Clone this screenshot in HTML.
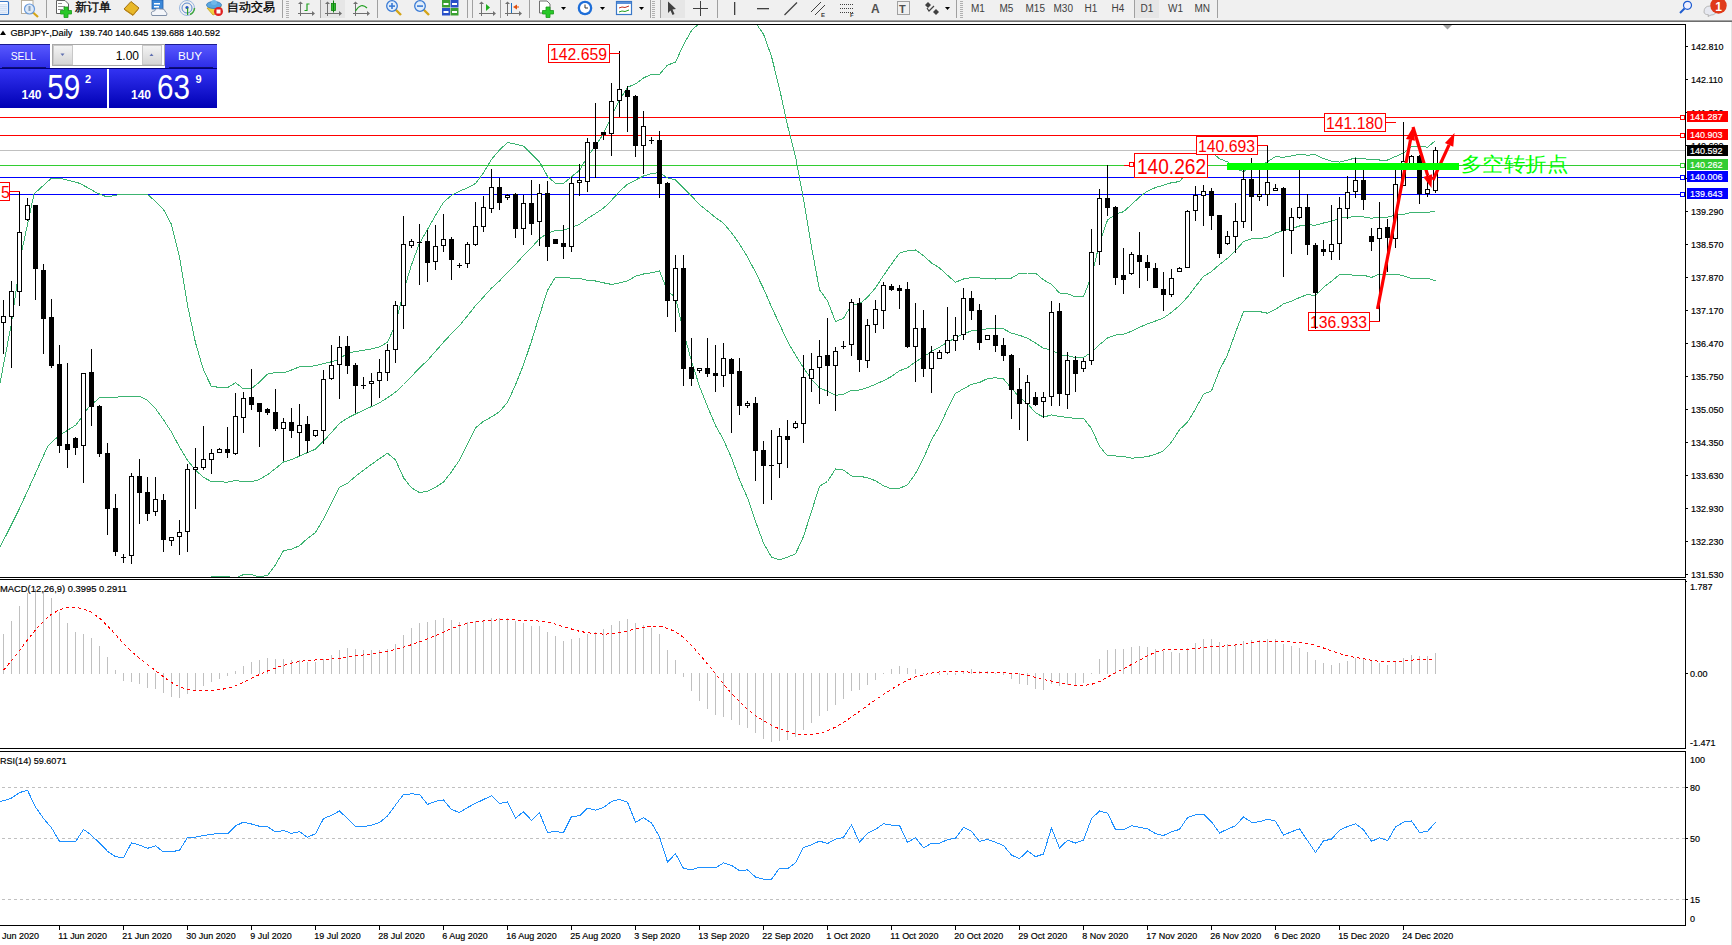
<!DOCTYPE html>
<html><head><meta charset="utf-8">
<style>
html,body{margin:0;padding:0;}
body{width:1732px;height:945px;overflow:hidden;position:relative;background:#fff;font-family:"Liberation Sans",sans-serif;}
svg{position:absolute;left:0;top:0;}
.t{font-family:"Liberation Sans",sans-serif;}
</style></head><body>
<svg width="1732" height="945" viewBox="0 0 1732 945">
<defs>
<clipPath id="clipMain"><rect x="0" y="25" width="1685" height="552"/></clipPath>
<clipPath id="clipMacd"><rect x="0" y="581" width="1685" height="167"/></clipPath>
<clipPath id="clipRsi"><rect x="0" y="752" width="1685" height="173"/></clipPath>
<linearGradient id="gBtn" x1="0" y1="0" x2="0" y2="1"><stop offset="0" stop-color="#5a5aff"/><stop offset="1" stop-color="#2c2ce6"/></linearGradient>
<linearGradient id="gPx" x1="0" y1="0" x2="0" y2="1"><stop offset="0" stop-color="#3434f4"/><stop offset="1" stop-color="#0000b4"/></linearGradient>
<linearGradient id="gGray" x1="0" y1="0" x2="0" y2="1"><stop offset="0" stop-color="#f4f4f4"/><stop offset="1" stop-color="#d4d4d4"/></linearGradient>
</defs>
<!-- window background -->
<rect x="0" y="0" width="1732" height="945" fill="#fff"/>
<!-- toolbar -->
<rect x="0" y="0" width="1732" height="20" fill="#f0f0f0"/>
<rect x="0" y="20" width="1732" height="1" fill="#a0a0a0"/>
<rect x="0" y="21" width="1732" height="1" fill="#6d6d6d"/>
<rect x="0" y="22" width="1732" height="2" fill="#ffffff"/>
<rect x="-3.5" y="1.5" width="12" height="13" fill="#fff" stroke="#3a78c8" stroke-width="1.2" rx="1"/><rect x="-2" y="4.5" width="9" height="0.8" fill="#a8c4ec"/><rect x="-2" y="6.5" width="9" height="0.8" fill="#a8c4ec"/><rect x="-2" y="8.5" width="9" height="0.8" fill="#a8c4ec"/><rect x="-2" y="10.5" width="9" height="0.8" fill="#a8c4ec"/><rect x="-2" y="12.5" width="9" height="0.8" fill="#a8c4ec"/><rect x="21.5" y="0.5" width="11.5" height="13" fill="#fff" stroke="#b8b0a0" stroke-width="1"/><line x1="33" y1="12.5" x2="38" y2="17" stroke="#d4a418" stroke-width="2.2"/><circle cx="29.5" cy="9" r="5" fill="#dde9f8" stroke="#6a9ad8" stroke-width="1.2"/><rect x="28.5" y="6" width="2" height="5" fill="#8aa0b8"/><rect x="46" y="0" width="1" height="18" fill="#a0a0a0"/><rect x="282" y="0" width="1" height="18" fill="#a0a0a0"/><rect x="320" y="0" width="1" height="18" fill="#a0a0a0"/><rect x="377" y="0" width="1" height="18" fill="#a0a0a0"/><rect x="467" y="0" width="1" height="18" fill="#a0a0a0"/><rect x="472" y="0" width="1" height="18" fill="#a0a0a0"/><rect x="500" y="0" width="1" height="18" fill="#a0a0a0"/><rect x="529" y="0" width="1" height="18" fill="#a0a0a0"/><rect x="650" y="0" width="1" height="18" fill="#a0a0a0"/><rect x="660" y="0" width="1" height="18" fill="#a0a0a0"/><rect x="717" y="0" width="1" height="18" fill="#a0a0a0"/><rect x="956" y="0" width="1" height="18" fill="#a0a0a0"/><rect x="1134" y="0" width="1" height="18" fill="#a0a0a0"/><rect x="1217" y="0" width="1" height="18" fill="#a0a0a0"/><rect x="286" y="1" width="3" height="1" fill="#b0b0b0"/><rect x="286" y="3" width="3" height="1" fill="#b0b0b0"/><rect x="286" y="5" width="3" height="1" fill="#b0b0b0"/><rect x="286" y="7" width="3" height="1" fill="#b0b0b0"/><rect x="286" y="9" width="3" height="1" fill="#b0b0b0"/><rect x="286" y="11" width="3" height="1" fill="#b0b0b0"/><rect x="286" y="13" width="3" height="1" fill="#b0b0b0"/><rect x="286" y="15" width="3" height="1" fill="#b0b0b0"/><rect x="286" y="17" width="3" height="1" fill="#b0b0b0"/><rect x="652" y="1" width="3" height="1" fill="#b0b0b0"/><rect x="652" y="3" width="3" height="1" fill="#b0b0b0"/><rect x="652" y="5" width="3" height="1" fill="#b0b0b0"/><rect x="652" y="7" width="3" height="1" fill="#b0b0b0"/><rect x="652" y="9" width="3" height="1" fill="#b0b0b0"/><rect x="652" y="11" width="3" height="1" fill="#b0b0b0"/><rect x="652" y="13" width="3" height="1" fill="#b0b0b0"/><rect x="652" y="15" width="3" height="1" fill="#b0b0b0"/><rect x="652" y="17" width="3" height="1" fill="#b0b0b0"/><rect x="960" y="1" width="3" height="1" fill="#b0b0b0"/><rect x="960" y="3" width="3" height="1" fill="#b0b0b0"/><rect x="960" y="5" width="3" height="1" fill="#b0b0b0"/><rect x="960" y="7" width="3" height="1" fill="#b0b0b0"/><rect x="960" y="9" width="3" height="1" fill="#b0b0b0"/><rect x="960" y="11" width="3" height="1" fill="#b0b0b0"/><rect x="960" y="13" width="3" height="1" fill="#b0b0b0"/><rect x="960" y="15" width="3" height="1" fill="#b0b0b0"/><rect x="960" y="17" width="3" height="1" fill="#b0b0b0"/><path d="M56.5,0.5 H65 L68.5,4 V13.5 H56.5 Z" fill="#fff" stroke="#606060" stroke-width="1"/><rect x="58" y="3" width="4" height="1" fill="#909090"/><rect x="58" y="6" width="7" height="1" fill="#909090"/><rect x="58" y="9" width="5" height="1" fill="#909090"/><path d="M64,7 H68 V10.5 H71.5 V14 H68 V17.5 H64 V14 H60.5 V10.5 H64 Z" fill="#28c828" stroke="#1a9a1a" stroke-width="0.8"/><text x="75" y="10.5" font-size="11.5" fill="#000" text-anchor="start" font-weight="normal" font-family="Liberation Sans, sans-serif" stroke="#000" stroke-width="0.3">新订单</text><path d="M124,9 L131,1.5 L139,8 L133,15 Z" fill="#e8b828" stroke="#a07010" stroke-width="1"/><path d="M125,10 L133,15.5 L138,9.5" fill="none" stroke="#c08818" stroke-width="1"/><rect x="152" y="0" width="11" height="9" fill="#3c88d8" stroke="#2060b0" stroke-width="0.8"/><rect x="154" y="3" width="6" height="1.5" fill="#fff"/><rect x="154" y="6" width="5" height="1.5" fill="#fff"/><path d="M152,15.5 Q150,11 154.5,11 Q156,7.5 160,9 Q165,8.5 165.5,12 Q168,13 166.5,15.5 Z" fill="#f4f6fa" stroke="#8090a8" stroke-width="1"/><circle cx="187" cy="8" r="7.5" fill="none" stroke="#9ab8e0" stroke-width="1"/><circle cx="187" cy="8" r="5" fill="none" stroke="#5888d0" stroke-width="1"/><path d="M190,14.5 A7.5,7.5 0 0 0 194.5,8" fill="none" stroke="#40a840" stroke-width="1.5"/><circle cx="187" cy="7.5" r="1.6" fill="#2858c0"/><rect x="187" y="8" width="1.2" height="7" fill="#28a028"/><path d="M207,8 L213,15 L220,12 L221,6 Z" fill="#f0d040" stroke="#c0a020" stroke-width="0.8"/><ellipse cx="214" cy="5" rx="7.5" ry="3.5" fill="#58a8e0" stroke="#3878b8" stroke-width="0.8"/><ellipse cx="214" cy="2.5" rx="3" ry="2.5" fill="#70b8e8"/><circle cx="218.5" cy="11.5" r="4.5" fill="#e02020"/><rect x="216.5" y="9.5" width="4" height="4" fill="#fff"/><text x="227" y="10.5" font-size="11.5" fill="#000" text-anchor="start" font-weight="normal" font-family="Liberation Sans, sans-serif" stroke="#000" stroke-width="0.3">自动交易</text><rect x="300" y="2" width="1" height="14" fill="#707070"/><rect x="298" y="13" width="16" height="1" fill="#707070"/><path d="M298,4 L300.5,1.5 L303,4 Z" fill="#707070"/><path d="M312,11 L315,13.5 L312,16 Z" fill="#707070"/><path d="M304.5,10.5 H307 V4 H309.5" fill="none" stroke="#20a020" stroke-width="1.2"/><rect x="321" y="0" width="24" height="18" fill="#e6e6e6"/><rect x="327" y="2" width="1" height="14" fill="#707070"/><rect x="325" y="13" width="16" height="1" fill="#707070"/><path d="M325,4 L327.5,1.5 L330,4 Z" fill="#707070"/><path d="M339,11 L342,13.5 L339,16 Z" fill="#707070"/><rect x="331.5" y="3.5" width="4" height="7" fill="#30c030" stroke="#108010" stroke-width="0.8"/><rect x="333" y="0.5" width="1" height="12" fill="#108010"/><rect x="355" y="2" width="1" height="14" fill="#707070"/><rect x="353" y="13" width="16" height="1" fill="#707070"/><path d="M353,4 L355.5,1.5 L358,4 Z" fill="#707070"/><path d="M367,11 L370,13.5 L367,16 Z" fill="#707070"/><path d="M355.5,11 Q361,2 367,8" fill="none" stroke="#20a020" stroke-width="1.2"/><line x1="395.5" y1="9.5" x2="401" y2="15" stroke="#d4a418" stroke-width="2.4"/><circle cx="392" cy="6" r="5.3" fill="#e2eefa" stroke="#3a7bd5" stroke-width="1.3"/><rect x="389" y="5.3" width="6" height="1.6" fill="#3a7bd5"/><rect x="391.2" y="3" width="1.6" height="6" fill="#3a7bd5"/><line x1="423.5" y1="9.5" x2="429" y2="15" stroke="#d4a418" stroke-width="2.4"/><circle cx="420" cy="6" r="5.3" fill="#e2eefa" stroke="#3a7bd5" stroke-width="1.3"/><rect x="417" y="5.3" width="6" height="1.6" fill="#3a7bd5"/><rect x="442" y="0" width="8" height="7.5" fill="#3aa030"/><rect x="443.5" y="3" width="5" height="2" fill="#fff"/><rect x="450.5" y="0" width="8" height="7.5" fill="#2850c8"/><rect x="452.0" y="3" width="5" height="2" fill="#fff"/><rect x="442" y="8" width="8" height="7.5" fill="#2850c8"/><rect x="443.5" y="11" width="5" height="2" fill="#fff"/><rect x="450.5" y="8" width="8" height="7.5" fill="#3aa030"/><rect x="452.0" y="11" width="5" height="2" fill="#fff"/><rect x="481" y="2" width="1" height="14" fill="#707070"/><rect x="479" y="13" width="16" height="1" fill="#707070"/><path d="M479,4 L481.5,1.5 L484,4 Z" fill="#707070"/><path d="M493,11 L496,13.5 L493,16 Z" fill="#707070"/><path d="M486,4 L490,7.5 L486,11 Z" fill="#20b020"/><rect x="507" y="2" width="1" height="14" fill="#707070"/><rect x="505" y="13" width="16" height="1" fill="#707070"/><path d="M505,4 L507.5,1.5 L510,4 Z" fill="#707070"/><path d="M519,11 L522,13.5 L519,16 Z" fill="#707070"/><rect x="511" y="3" width="1" height="10" fill="#1a70c0"/><path d="M513,7 L517,4.5 V9.5 Z" fill="#e05010"/><rect x="515" y="6.5" width="4" height="1" fill="#e05010"/><path d="M539.5,1 H547 L550,4 V13 H539.5 Z" fill="#fff" stroke="#707070" stroke-width="1"/><path d="M546,7 H550 V10.5 H553.5 V14 H550 V17.5 H546 V14 H542.5 V10.5 H546 Z" fill="#28c828" stroke="#1a9a1a" stroke-width="0.8"/><path d="M561,7 L566,7 L563.5,10 Z" fill="#000"/><path d="M600,7 L605,7 L602.5,10 Z" fill="#000"/><path d="M639,7 L644,7 L641.5,10 Z" fill="#000"/><circle cx="585" cy="8" r="7.3" fill="#1e6ed8"/><circle cx="585" cy="8" r="5" fill="#fff"/><path d="M585,4.5 V8 H588" fill="none" stroke="#333" stroke-width="1"/><rect x="616.5" y="1.5" width="15" height="13" fill="#fff" stroke="#3a78c8" stroke-width="1.2"/><rect x="617" y="2" width="14" height="2" fill="#5a90d8"/><path d="M619,8 L622,7 L625,7.5 L629,6" fill="none" stroke="#c03020" stroke-width="1"/><path d="M619,12 L622,11 L625,11.5 L629,10" fill="none" stroke="#20a020" stroke-width="1"/><rect x="661" y="0" width="24" height="18" fill="#e6e6e6"/><path d="M668,1.5 L676,9 L672.5,9.5 L674.5,14 L672.5,15 L670.5,10.5 L668,13 Z" fill="#404040"/><rect x="693" y="8" width="15" height="1" fill="#404040"/><rect x="700" y="1" width="1" height="15" fill="#404040"/><rect x="734" y="2" width="1.3" height="13" fill="#404040"/><rect x="757" y="8" width="12" height="1.3" fill="#404040"/><line x1="784.5" y1="15" x2="797" y2="2.5" stroke="#404040" stroke-width="1.2"/><line x1="811" y1="12" x2="821" y2="2" stroke="#404040" stroke-width="1"/><line x1="815" y1="15" x2="825" y2="5" stroke="#404040" stroke-width="1"/><text x="821" y="16.5" font-size="6" fill="#404040" text-anchor="start" font-weight="bold" font-family="Liberation Sans, sans-serif" >E</text><rect x="840" y="4" width="1" height="1" fill="#404040"/><rect x="842" y="4" width="1" height="1" fill="#404040"/><rect x="844" y="4" width="1" height="1" fill="#404040"/><rect x="846" y="4" width="1" height="1" fill="#404040"/><rect x="848" y="4" width="1" height="1" fill="#404040"/><rect x="850" y="4" width="1" height="1" fill="#404040"/><rect x="852" y="4" width="1" height="1" fill="#404040"/><rect x="840" y="8" width="1" height="1" fill="#404040"/><rect x="842" y="8" width="1" height="1" fill="#404040"/><rect x="844" y="8" width="1" height="1" fill="#404040"/><rect x="846" y="8" width="1" height="1" fill="#404040"/><rect x="848" y="8" width="1" height="1" fill="#404040"/><rect x="850" y="8" width="1" height="1" fill="#404040"/><rect x="852" y="8" width="1" height="1" fill="#404040"/><rect x="840" y="12" width="1" height="1" fill="#404040"/><rect x="842" y="12" width="1" height="1" fill="#404040"/><rect x="844" y="12" width="1" height="1" fill="#404040"/><rect x="846" y="12" width="1" height="1" fill="#404040"/><rect x="848" y="12" width="1" height="1" fill="#404040"/><rect x="850" y="12" width="1" height="1" fill="#404040"/><rect x="852" y="12" width="1" height="1" fill="#404040"/><text x="850" y="16.5" font-size="6" fill="#404040" text-anchor="start" font-weight="bold" font-family="Liberation Sans, sans-serif" >F</text><text x="871" y="12.5" font-size="12" fill="#505050" text-anchor="start" font-weight="bold" font-family="Liberation Sans, sans-serif" >A</text><rect x="897.5" y="1.5" width="12" height="13" fill="none" stroke="#505050" stroke-width="1" stroke-dasharray="1,1"/><text x="899" y="12.5" font-size="11" fill="#505050" text-anchor="start" font-weight="bold" font-family="Liberation Sans, sans-serif" >T</text><path d="M925,5 L928,2 L931,5 L928,8 Z" fill="#404040"/><path d="M933,12 L936,9 L939,12 L936,15 Z" fill="#404040"/><path d="M927,8 L929,11 L934,6" fill="none" stroke="#404040" stroke-width="1.2"/><path d="M945,7 L950,7 L947.5,10 Z" fill="#000"/><rect x="1135" y="0" width="24" height="18" fill="#e6e6e6"/><text x="971" y="12.3" font-size="10" fill="#404040" text-anchor="start" font-weight="normal" font-family="Liberation Sans, sans-serif" >M1</text><text x="999.5" y="12.3" font-size="10" fill="#404040" text-anchor="start" font-weight="normal" font-family="Liberation Sans, sans-serif" >M5</text><text x="1025.5" y="12.3" font-size="10" fill="#404040" text-anchor="start" font-weight="normal" font-family="Liberation Sans, sans-serif" >M15</text><text x="1053.5" y="12.3" font-size="10" fill="#404040" text-anchor="start" font-weight="normal" font-family="Liberation Sans, sans-serif" >M30</text><text x="1084.5" y="12.3" font-size="10" fill="#404040" text-anchor="start" font-weight="normal" font-family="Liberation Sans, sans-serif" >H1</text><text x="1111.5" y="12.3" font-size="10" fill="#404040" text-anchor="start" font-weight="normal" font-family="Liberation Sans, sans-serif" >H4</text><text x="1140.5" y="12.3" font-size="10" fill="#404040" text-anchor="start" font-weight="normal" font-family="Liberation Sans, sans-serif" >D1</text><text x="1168" y="12.3" font-size="10" fill="#404040" text-anchor="start" font-weight="normal" font-family="Liberation Sans, sans-serif" >W1</text><text x="1194.5" y="12.3" font-size="10" fill="#404040" text-anchor="start" font-weight="normal" font-family="Liberation Sans, sans-serif" >MN</text><circle cx="1687.5" cy="5.3" r="4" fill="#f0f0ff" stroke="#1e5cd0" stroke-width="1.2"/><line x1="1684.5" y1="8.5" x2="1680" y2="13" stroke="#1e5cd0" stroke-width="2"/><path d="M1704,12 Q1704,6 1710,6 Q1716,6 1716,11 Q1716,15 1711,15 L1708,16.5 L1708.5,14.8 Q1704,14.5 1704,12 Z" fill="#e6e8f0" stroke="#a8a8a8" stroke-width="0.8"/><circle cx="1718.5" cy="5.5" r="8.2" fill="#e03a1a"/><text x="1718.5" y="10.5" font-size="12" fill="#fff" text-anchor="middle" font-weight="bold" font-family="Liberation Sans, sans-serif" >1</text>
<!-- right side frame -->
<rect x="1731" y="22" width="1" height="923" fill="#e2e2e2"/>
<!-- chart frames -->
<g fill="#000" shape-rendering="crispEdges">
<rect x="0" y="24" width="1686" height="1"/>
<rect x="1685" y="24" width="1" height="554"/>
<rect x="0" y="577" width="1686" height="1"/>
<rect x="0" y="579" width="1686" height="1"/>
<rect x="1685" y="579" width="1" height="170"/>
<rect x="0" y="748" width="1686" height="1"/>
<rect x="0" y="751" width="1686" height="1"/>
<rect x="1685" y="751" width="1" height="175"/>
<rect x="0" y="925" width="1686" height="1"/>
</g>
<g shape-rendering="crispEdges"><rect x="0" y="117" width="1680" height="1" fill="#ff0000"/><rect x="1680.5" y="115.5" width="4" height="4" fill="#fff" stroke="#ff0000" stroke-width="1"/><rect x="0" y="135" width="1680" height="1" fill="#ff0000"/><rect x="1680.5" y="133.5" width="4" height="4" fill="#fff" stroke="#ff0000" stroke-width="1"/><rect x="0" y="150" width="1685" height="1" fill="#c0c0c0"/><rect x="0" y="165" width="1680" height="1" fill="#32cd32"/><rect x="1680.5" y="163.5" width="4" height="4" fill="#fff" stroke="#32cd32" stroke-width="1"/><rect x="0" y="177" width="1680" height="1" fill="#0000ff"/><rect x="1680.5" y="175.5" width="4" height="4" fill="#fff" stroke="#0000ff" stroke-width="1"/><rect x="0" y="194" width="1680" height="1" fill="#0000ff"/><rect x="1680.5" y="192.5" width="4" height="4" fill="#fff" stroke="#0000ff" stroke-width="1"/></g>
<g clip-path="url(#clipMain)">
<g clip-path="url(#clipMain)"><polyline points="0.0,383.0 11.0,326.0 22.0,250.0 34.0,194.0 51.0,178.5 63.0,179.0 80.0,183.4 97.0,193.0 107.0,197.0 122.0,194.0 136.0,195.0 147.0,194.0 155.5,201.3 163.5,209.5 171.5,224.5 179.5,256.6 187.5,305.3 195.5,342.7 203.5,370.1 211.5,386.7 219.5,387.2 227.5,387.6 235.5,382.8 243.5,388.9 251.5,388.5 259.5,382.2 267.5,374.1 275.5,372.4 283.5,373.0 291.5,370.0 299.5,366.8 307.5,366.9 315.5,365.7 323.5,363.5 331.5,361.8 339.5,359.2 347.5,352.9 355.5,351.5 363.5,350.3 371.5,348.9 379.5,346.8 387.5,342.3 395.5,324.6 403.5,291.4 411.5,264.8 419.5,243.3 427.5,229.5 435.5,215.5 443.5,202.2 451.5,195.4 459.5,191.1 467.5,187.9 475.5,183.5 483.5,172.7 491.5,159.4 499.5,150.0 507.5,142.5 515.5,144.2 523.5,146.1 531.5,154.0 539.5,161.9 547.5,176.3 555.5,183.5 563.5,183.4 571.5,176.7 579.5,170.3 587.5,156.5 595.5,146.0 603.5,133.6 611.5,116.3 619.5,100.2 627.5,87.3 635.5,83.9 643.5,77.9 651.5,74.5 659.5,74.3 667.5,65.1 675.5,62.2 683.5,44.7 691.5,30.6 699.5,23.0 707.5,15.6 715.5,9.7 723.5,6.7 731.5,7.5 739.5,8.0 747.5,16.1 755.5,22.7 763.5,34.1 771.5,56.4 779.5,88.6 787.5,125.5 795.5,156.5 803.5,199.2 811.5,246.8 819.5,289.8 827.5,300.8 835.5,321.6 843.5,318.3 851.5,304.8 859.5,303.9 867.5,297.2 875.5,287.9 883.5,275.5 891.5,264.1 899.5,253.1 907.5,250.8 915.5,250.0 923.5,255.6 931.5,263.0 939.5,267.9 947.5,275.3 955.5,282.2 963.5,279.0 971.5,277.6 979.5,277.9 987.5,278.8 995.5,279.0 1003.5,278.7 1011.5,278.1 1019.5,273.3 1027.5,273.0 1035.5,273.0 1043.5,279.9 1051.5,284.4 1059.5,293.0 1067.5,293.8 1075.5,296.8 1083.5,296.7 1091.5,276.2 1099.5,243.2 1107.5,220.1 1115.5,214.2 1123.5,211.7 1131.5,204.5 1139.5,197.1 1147.5,191.1 1155.5,187.6 1163.5,185.1 1171.5,182.7 1179.5,181.6 1187.5,172.0 1195.5,164.3 1203.5,158.5 1211.5,152.0 1219.5,158.8 1227.5,161.8 1235.5,168.8 1243.5,171.6 1251.5,166.3 1259.5,165.6 1267.5,161.6 1275.5,156.7 1283.5,157.2 1291.5,156.0 1299.5,154.4 1307.5,155.2 1315.5,154.6 1323.5,158.6 1331.5,161.3 1339.5,162.1 1347.5,160.1 1355.5,157.9 1363.5,158.9 1371.5,159.3 1379.5,160.0 1387.5,160.0 1395.5,156.5 1403.5,153.0 1411.5,146.4 1419.5,146.3 1427.5,147.2 1435.5,140.7" fill="none" stroke="#3cb371" stroke-width="1" shape-rendering="crispEdges" /><polyline points="0.0,546.7 7.6,532.4 19.0,509.5 28.6,488.6 38.1,467.6 47.6,446.7 55.2,439.0 62.9,433.3 76.2,424.8 87.6,408.6 99.0,398.0 118.0,397.0 140.0,396.5 147.0,400.0 155.5,408.6 163.5,419.8 171.5,432.1 179.5,447.1 187.5,460.3 195.5,470.2 203.5,477.3 211.5,481.7 219.5,481.9 227.5,482.1 235.5,480.5 243.5,481.7 251.5,481.6 259.5,479.5 267.5,474.7 275.5,468.6 283.5,461.9 291.5,459.6 299.5,456.2 307.5,452.6 315.5,449.1 323.5,441.1 331.5,432.6 339.5,423.3 347.5,418.1 355.5,414.0 363.5,410.2 371.5,406.6 379.5,402.8 387.5,397.7 395.5,392.2 403.5,384.5 411.5,376.4 419.5,367.9 427.5,360.4 435.5,351.4 443.5,342.2 451.5,333.6 459.5,325.6 467.5,315.8 475.5,305.7 483.5,297.0 491.5,288.1 499.5,280.9 507.5,272.4 515.5,264.5 523.5,255.5 531.5,247.6 539.5,238.6 547.5,233.4 555.5,230.3 563.5,230.3 571.5,227.5 579.5,224.4 587.5,218.4 595.5,213.5 603.5,208.2 611.5,200.3 619.5,191.6 627.5,184.1 635.5,180.1 643.5,176.0 651.5,173.6 659.5,172.6 667.5,177.9 675.5,179.9 683.5,188.1 691.5,195.9 699.5,204.7 707.5,211.0 715.5,217.6 723.5,223.2 731.5,232.7 739.5,243.9 747.5,257.0 755.5,272.1 763.5,288.6 771.5,306.8 779.5,324.1 787.5,341.3 795.5,355.2 803.5,367.8 811.5,379.2 819.5,387.9 827.5,391.2 835.5,395.3 843.5,394.2 851.5,390.4 859.5,390.0 867.5,387.6 875.5,384.3 883.5,380.7 891.5,376.5 899.5,370.7 907.5,367.9 915.5,361.8 923.5,357.0 931.5,351.3 939.5,347.1 947.5,342.2 955.5,337.8 963.5,333.9 971.5,330.9 979.5,330.2 987.5,328.7 995.5,328.4 1003.5,328.9 1011.5,333.2 1019.5,335.3 1027.5,338.2 1035.5,342.9 1043.5,348.5 1051.5,349.7 1059.5,354.8 1067.5,355.6 1075.5,357.8 1083.5,357.4 1091.5,352.4 1099.5,344.7 1107.5,338.0 1115.5,335.1 1123.5,334.1 1131.5,331.3 1139.5,327.3 1147.5,323.9 1155.5,321.0 1163.5,317.9 1171.5,312.4 1179.5,305.6 1187.5,297.1 1195.5,286.6 1203.5,276.4 1211.5,271.5 1219.5,264.5 1227.5,258.3 1235.5,250.7 1243.5,241.6 1251.5,238.8 1259.5,238.6 1267.5,237.4 1275.5,233.0 1283.5,230.5 1291.5,228.7 1299.5,226.0 1307.5,224.9 1315.5,225.1 1323.5,223.0 1331.5,221.3 1339.5,218.3 1347.5,217.4 1355.5,216.6 1363.5,217.0 1371.5,218.3 1379.5,217.1 1387.5,217.1 1395.5,215.3 1403.5,214.4 1411.5,212.4 1419.5,212.3 1427.5,212.7 1435.5,210.8" fill="none" stroke="#3cb371" stroke-width="1" shape-rendering="crispEdges" /><polyline points="150.0,578.0 155.5,615.9 163.5,630.0 171.5,639.7 179.5,637.5 187.5,615.2 195.5,597.8 203.5,584.5 211.5,576.7 219.5,576.6 227.5,576.6 235.5,578.2 243.5,574.5 251.5,574.7 259.5,576.9 267.5,575.4 275.5,564.7 283.5,550.7 291.5,549.2 299.5,545.7 307.5,538.4 315.5,532.5 323.5,518.8 331.5,503.3 339.5,487.4 347.5,483.3 355.5,476.4 363.5,470.2 371.5,464.4 379.5,458.7 387.5,453.2 395.5,459.8 403.5,477.7 411.5,487.9 419.5,492.5 427.5,491.3 435.5,487.2 443.5,482.2 451.5,471.8 459.5,460.1 467.5,443.8 475.5,427.9 483.5,421.3 491.5,416.9 499.5,411.8 507.5,402.3 515.5,384.8 523.5,364.8 531.5,341.2 539.5,315.3 547.5,290.5 555.5,277.1 563.5,277.2 571.5,278.2 579.5,278.5 587.5,280.3 595.5,281.0 603.5,282.8 611.5,284.4 619.5,282.9 627.5,281.0 635.5,276.2 643.5,274.0 651.5,272.7 659.5,271.0 667.5,290.7 675.5,297.7 683.5,331.6 691.5,361.2 699.5,386.4 707.5,406.5 715.5,425.5 723.5,439.8 731.5,457.9 739.5,479.8 747.5,497.8 755.5,521.4 763.5,543.1 771.5,557.2 779.5,559.7 787.5,557.1 795.5,553.9 803.5,536.4 811.5,511.6 819.5,486.1 827.5,481.5 835.5,469.0 843.5,470.1 851.5,476.0 859.5,476.1 867.5,477.9 875.5,480.7 883.5,485.8 891.5,488.9 899.5,488.3 907.5,484.9 915.5,473.6 923.5,458.3 931.5,439.7 939.5,426.4 947.5,409.1 955.5,393.4 963.5,388.8 971.5,384.3 979.5,382.5 987.5,378.6 995.5,377.7 1003.5,379.0 1011.5,388.2 1019.5,397.4 1027.5,403.4 1035.5,412.8 1043.5,417.1 1051.5,414.9 1059.5,416.6 1067.5,417.3 1075.5,418.7 1083.5,418.2 1091.5,428.6 1099.5,446.2 1107.5,455.9 1115.5,456.0 1123.5,456.5 1131.5,458.2 1139.5,457.5 1147.5,456.6 1155.5,454.3 1163.5,450.8 1171.5,442.1 1179.5,429.7 1187.5,422.2 1195.5,409.0 1203.5,394.2 1211.5,390.9 1219.5,370.2 1227.5,354.8 1235.5,332.5 1243.5,311.6 1251.5,311.3 1259.5,311.6 1267.5,313.2 1275.5,309.3 1283.5,303.9 1291.5,301.3 1299.5,297.5 1307.5,294.5 1315.5,295.7 1323.5,287.3 1331.5,281.3 1339.5,274.5 1347.5,274.6 1355.5,275.4 1363.5,275.2 1371.5,277.4 1379.5,274.1 1387.5,274.3 1395.5,274.1 1403.5,275.8 1411.5,278.4 1419.5,278.4 1427.5,278.2 1435.5,281.0" fill="none" stroke="#3cb371" stroke-width="1" shape-rendering="crispEdges" /></g>
</g>
<g fill="#000" shape-rendering="crispEdges"><rect x="3" y="300" width="1" height="54"/><rect x="1" y="316" width="5" height="7"/><rect x="2" y="317" width="3" height="5" fill="#fff"/><rect x="11" y="281" width="1" height="87"/><rect x="9" y="291" width="5" height="26"/><rect x="10" y="292" width="3" height="24" fill="#fff"/><rect x="19" y="191" width="1" height="115"/><rect x="17" y="232" width="5" height="60"/><rect x="18" y="233" width="3" height="58" fill="#fff"/><rect x="27" y="198" width="1" height="23"/><rect x="25" y="205" width="5" height="15"/><rect x="26" y="206" width="3" height="13" fill="#fff"/><rect x="35" y="205" width="1" height="95"/><rect x="33" y="205" width="5" height="64"/><rect x="43" y="264" width="1" height="90"/><rect x="41" y="270" width="5" height="49"/><rect x="51" y="299" width="1" height="69"/><rect x="49" y="317" width="5" height="49"/><rect x="59" y="345" width="1" height="108"/><rect x="57" y="364" width="5" height="82"/><rect x="67" y="363" width="1" height="105"/><rect x="65" y="444" width="5" height="6"/><rect x="75" y="437" width="1" height="18"/><rect x="73" y="438" width="5" height="10"/><rect x="83" y="373" width="1" height="110"/><rect x="81" y="373" width="5" height="73"/><rect x="82" y="374" width="3" height="71" fill="#fff"/><rect x="91" y="349" width="1" height="77"/><rect x="89" y="372" width="5" height="35"/><rect x="99" y="405" width="1" height="52"/><rect x="97" y="406" width="5" height="48"/><rect x="107" y="443" width="1" height="92"/><rect x="105" y="453" width="5" height="56"/><rect x="115" y="494" width="1" height="62"/><rect x="113" y="508" width="5" height="44"/><rect x="123" y="554" width="1" height="9"/><rect x="121" y="557" width="5" height="1"/><rect x="131" y="473" width="1" height="91"/><rect x="129" y="476" width="5" height="80"/><rect x="130" y="477" width="3" height="78" fill="#fff"/><rect x="139" y="459" width="1" height="65"/><rect x="137" y="476" width="5" height="17"/><rect x="147" y="477" width="1" height="44"/><rect x="145" y="492" width="5" height="22"/><rect x="155" y="477" width="1" height="39"/><rect x="153" y="499" width="5" height="13"/><rect x="154" y="500" width="3" height="11" fill="#fff"/><rect x="163" y="494" width="1" height="58"/><rect x="161" y="500" width="5" height="40"/><rect x="171" y="537" width="1" height="9"/><rect x="169" y="537" width="5" height="4"/><rect x="170" y="538" width="3" height="2" fill="#fff"/><rect x="179" y="520" width="1" height="35"/><rect x="177" y="532" width="5" height="5"/><rect x="178" y="533" width="3" height="3" fill="#fff"/><rect x="187" y="464" width="1" height="88"/><rect x="185" y="469" width="5" height="63"/><rect x="186" y="470" width="3" height="61" fill="#fff"/><rect x="195" y="448" width="1" height="61"/><rect x="193" y="467" width="5" height="3"/><rect x="194" y="468" width="3" height="1" fill="#fff"/><rect x="203" y="426" width="1" height="44"/><rect x="201" y="459" width="5" height="9"/><rect x="202" y="460" width="3" height="7" fill="#fff"/><rect x="211" y="449" width="1" height="25"/><rect x="209" y="453" width="5" height="7"/><rect x="210" y="454" width="3" height="5" fill="#fff"/><rect x="219" y="448" width="1" height="5"/><rect x="217" y="449" width="5" height="4"/><rect x="218" y="450" width="3" height="2" fill="#fff"/><rect x="227" y="427" width="1" height="31"/><rect x="225" y="449" width="5" height="4"/><rect x="235" y="393" width="1" height="62"/><rect x="233" y="416" width="5" height="38"/><rect x="234" y="417" width="3" height="36" fill="#fff"/><rect x="243" y="392" width="1" height="41"/><rect x="241" y="398" width="5" height="20"/><rect x="242" y="399" width="3" height="18" fill="#fff"/><rect x="251" y="369" width="1" height="41"/><rect x="249" y="397" width="5" height="8"/><rect x="259" y="403" width="1" height="44"/><rect x="257" y="403" width="5" height="9"/><rect x="267" y="408" width="1" height="7"/><rect x="265" y="409" width="5" height="4"/><rect x="275" y="389" width="1" height="42"/><rect x="273" y="412" width="5" height="17"/><rect x="283" y="418" width="1" height="43"/><rect x="281" y="422" width="5" height="7"/><rect x="282" y="423" width="3" height="5" fill="#fff"/><rect x="291" y="408" width="1" height="30"/><rect x="289" y="422" width="5" height="9"/><rect x="299" y="404" width="1" height="52"/><rect x="297" y="425" width="5" height="8"/><rect x="298" y="426" width="3" height="6" fill="#fff"/><rect x="307" y="416" width="1" height="37"/><rect x="305" y="424" width="5" height="17"/><rect x="315" y="430" width="1" height="7"/><rect x="313" y="430" width="5" height="6"/><rect x="314" y="431" width="3" height="4" fill="#fff"/><rect x="323" y="370" width="1" height="74"/><rect x="321" y="379" width="5" height="52"/><rect x="322" y="380" width="3" height="50" fill="#fff"/><rect x="331" y="345" width="1" height="35"/><rect x="329" y="365" width="5" height="14"/><rect x="330" y="366" width="3" height="12" fill="#fff"/><rect x="339" y="336" width="1" height="63"/><rect x="337" y="347" width="5" height="18"/><rect x="338" y="348" width="3" height="16" fill="#fff"/><rect x="347" y="336" width="1" height="38"/><rect x="345" y="346" width="5" height="20"/><rect x="355" y="363" width="1" height="50"/><rect x="353" y="365" width="5" height="21"/><rect x="363" y="377" width="1" height="12"/><rect x="361" y="385" width="5" height="1"/><rect x="371" y="373" width="1" height="33"/><rect x="369" y="381" width="5" height="3"/><rect x="370" y="382" width="3" height="1" fill="#fff"/><rect x="379" y="359" width="1" height="39"/><rect x="377" y="372" width="5" height="9"/><rect x="378" y="373" width="3" height="7" fill="#fff"/><rect x="387" y="344" width="1" height="37"/><rect x="385" y="350" width="5" height="23"/><rect x="386" y="351" width="3" height="21" fill="#fff"/><rect x="395" y="301" width="1" height="62"/><rect x="393" y="305" width="5" height="45"/><rect x="394" y="306" width="3" height="43" fill="#fff"/><rect x="403" y="216" width="1" height="113"/><rect x="401" y="244" width="5" height="62"/><rect x="402" y="245" width="3" height="60" fill="#fff"/><rect x="411" y="239" width="1" height="9"/><rect x="409" y="241" width="5" height="5"/><rect x="410" y="242" width="3" height="3" fill="#fff"/><rect x="419" y="224" width="1" height="61"/><rect x="417" y="242" width="5" height="1"/><rect x="427" y="230" width="1" height="52"/><rect x="425" y="241" width="5" height="22"/><rect x="435" y="225" width="1" height="45"/><rect x="433" y="246" width="5" height="16"/><rect x="434" y="247" width="3" height="14" fill="#fff"/><rect x="443" y="214" width="1" height="38"/><rect x="441" y="239" width="5" height="7"/><rect x="442" y="240" width="3" height="5" fill="#fff"/><rect x="451" y="237" width="1" height="43"/><rect x="449" y="239" width="5" height="21"/><rect x="459" y="263" width="1" height="5"/><rect x="457" y="265" width="5" height="1"/><rect x="467" y="242" width="1" height="26"/><rect x="465" y="244" width="5" height="20"/><rect x="466" y="245" width="3" height="18" fill="#fff"/><rect x="475" y="202" width="1" height="44"/><rect x="473" y="226" width="5" height="19"/><rect x="474" y="227" width="3" height="17" fill="#fff"/><rect x="483" y="196" width="1" height="36"/><rect x="481" y="207" width="5" height="20"/><rect x="482" y="208" width="3" height="18" fill="#fff"/><rect x="491" y="169" width="1" height="44"/><rect x="489" y="187" width="5" height="22"/><rect x="490" y="188" width="3" height="20" fill="#fff"/><rect x="499" y="178" width="1" height="32"/><rect x="497" y="187" width="5" height="16"/><rect x="507" y="194" width="1" height="6"/><rect x="505" y="195" width="5" height="3"/><rect x="506" y="196" width="3" height="1" fill="#fff"/><rect x="515" y="193" width="1" height="45"/><rect x="513" y="194" width="5" height="35"/><rect x="523" y="195" width="1" height="50"/><rect x="521" y="203" width="5" height="26"/><rect x="522" y="204" width="3" height="24" fill="#fff"/><rect x="531" y="180" width="1" height="55"/><rect x="529" y="203" width="5" height="21"/><rect x="539" y="184" width="1" height="62"/><rect x="537" y="193" width="5" height="29"/><rect x="538" y="194" width="3" height="27" fill="#fff"/><rect x="547" y="181" width="1" height="80"/><rect x="545" y="193" width="5" height="54"/><rect x="555" y="239" width="1" height="5"/><rect x="553" y="239" width="5" height="5"/><rect x="563" y="225" width="1" height="34"/><rect x="561" y="243" width="5" height="4"/><rect x="571" y="177" width="1" height="75"/><rect x="569" y="183" width="5" height="64"/><rect x="570" y="184" width="3" height="62" fill="#fff"/><rect x="579" y="164" width="1" height="32"/><rect x="577" y="180" width="5" height="3"/><rect x="578" y="181" width="3" height="1" fill="#fff"/><rect x="587" y="138" width="1" height="54"/><rect x="585" y="142" width="5" height="40"/><rect x="586" y="143" width="3" height="38" fill="#fff"/><rect x="595" y="103" width="1" height="75"/><rect x="593" y="142" width="5" height="7"/><rect x="603" y="132" width="1" height="8"/><rect x="601" y="132" width="5" height="3"/><rect x="611" y="83" width="1" height="73"/><rect x="609" y="101" width="5" height="33"/><rect x="610" y="102" width="3" height="31" fill="#fff"/><rect x="619" y="51" width="1" height="66"/><rect x="617" y="89" width="5" height="12"/><rect x="618" y="90" width="3" height="10" fill="#fff"/><rect x="627" y="86" width="1" height="46"/><rect x="625" y="90" width="5" height="7"/><rect x="635" y="95" width="1" height="62"/><rect x="633" y="96" width="5" height="50"/><rect x="643" y="111" width="1" height="63"/><rect x="641" y="126" width="5" height="20"/><rect x="642" y="127" width="3" height="18" fill="#fff"/><rect x="651" y="137" width="1" height="7"/><rect x="649" y="140" width="5" height="1"/><rect x="659" y="131" width="1" height="67"/><rect x="657" y="140" width="5" height="44"/><rect x="667" y="182" width="1" height="135"/><rect x="665" y="183" width="5" height="118"/><rect x="675" y="255" width="1" height="77"/><rect x="673" y="268" width="5" height="33"/><rect x="674" y="269" width="3" height="31" fill="#fff"/><rect x="683" y="255" width="1" height="131"/><rect x="681" y="268" width="5" height="101"/><rect x="691" y="338" width="1" height="48"/><rect x="689" y="367" width="5" height="12"/><rect x="699" y="368" width="1" height="5"/><rect x="697" y="368" width="5" height="3"/><rect x="698" y="369" width="3" height="1" fill="#fff"/><rect x="707" y="338" width="1" height="39"/><rect x="705" y="368" width="5" height="6"/><rect x="715" y="345" width="1" height="47"/><rect x="713" y="373" width="5" height="3"/><rect x="723" y="343" width="1" height="44"/><rect x="721" y="358" width="5" height="18"/><rect x="722" y="359" width="3" height="16" fill="#fff"/><rect x="731" y="358" width="1" height="75"/><rect x="729" y="359" width="5" height="15"/><rect x="739" y="358" width="1" height="57"/><rect x="737" y="371" width="5" height="35"/><rect x="747" y="401" width="1" height="7"/><rect x="745" y="403" width="5" height="3"/><rect x="746" y="404" width="3" height="1" fill="#fff"/><rect x="755" y="397" width="1" height="84"/><rect x="753" y="403" width="5" height="48"/><rect x="763" y="441" width="1" height="63"/><rect x="761" y="450" width="5" height="16"/><rect x="771" y="430" width="1" height="70"/><rect x="769" y="465" width="5" height="1"/><rect x="779" y="428" width="1" height="50"/><rect x="777" y="436" width="5" height="28"/><rect x="778" y="437" width="3" height="26" fill="#fff"/><rect x="787" y="420" width="1" height="48"/><rect x="785" y="436" width="5" height="4"/><rect x="795" y="421" width="1" height="8"/><rect x="793" y="423" width="5" height="5"/><rect x="794" y="424" width="3" height="3" fill="#fff"/><rect x="803" y="355" width="1" height="88"/><rect x="801" y="377" width="5" height="47"/><rect x="802" y="378" width="3" height="45" fill="#fff"/><rect x="811" y="353" width="1" height="39"/><rect x="809" y="369" width="5" height="10"/><rect x="810" y="370" width="3" height="8" fill="#fff"/><rect x="819" y="340" width="1" height="64"/><rect x="817" y="356" width="5" height="12"/><rect x="818" y="357" width="3" height="10" fill="#fff"/><rect x="827" y="318" width="1" height="78"/><rect x="825" y="355" width="5" height="11"/><rect x="835" y="347" width="1" height="64"/><rect x="833" y="351" width="5" height="15"/><rect x="834" y="352" width="3" height="13" fill="#fff"/><rect x="843" y="341" width="1" height="8"/><rect x="841" y="346" width="5" height="1"/><rect x="851" y="299" width="1" height="57"/><rect x="849" y="302" width="5" height="43"/><rect x="850" y="303" width="3" height="41" fill="#fff"/><rect x="859" y="298" width="1" height="74"/><rect x="857" y="303" width="5" height="57"/><rect x="867" y="319" width="1" height="49"/><rect x="865" y="325" width="5" height="36"/><rect x="866" y="326" width="3" height="34" fill="#fff"/><rect x="875" y="300" width="1" height="33"/><rect x="873" y="309" width="5" height="16"/><rect x="874" y="310" width="3" height="14" fill="#fff"/><rect x="883" y="282" width="1" height="47"/><rect x="881" y="285" width="5" height="26"/><rect x="882" y="286" width="3" height="24" fill="#fff"/><rect x="891" y="284" width="1" height="7"/><rect x="889" y="286" width="5" height="4"/><rect x="899" y="285" width="1" height="24"/><rect x="897" y="288" width="5" height="3"/><rect x="907" y="282" width="1" height="66"/><rect x="905" y="289" width="5" height="58"/><rect x="915" y="303" width="1" height="79"/><rect x="913" y="328" width="5" height="19"/><rect x="914" y="329" width="3" height="17" fill="#fff"/><rect x="923" y="310" width="1" height="67"/><rect x="921" y="328" width="5" height="41"/><rect x="931" y="346" width="1" height="47"/><rect x="929" y="352" width="5" height="17"/><rect x="930" y="353" width="3" height="15" fill="#fff"/><rect x="939" y="350" width="1" height="9"/><rect x="937" y="352" width="5" height="7"/><rect x="938" y="353" width="3" height="5" fill="#fff"/><rect x="947" y="307" width="1" height="47"/><rect x="945" y="340" width="5" height="13"/><rect x="946" y="341" width="3" height="11" fill="#fff"/><rect x="955" y="317" width="1" height="34"/><rect x="953" y="335" width="5" height="6"/><rect x="954" y="336" width="3" height="4" fill="#fff"/><rect x="963" y="288" width="1" height="52"/><rect x="961" y="298" width="5" height="37"/><rect x="962" y="299" width="3" height="35" fill="#fff"/><rect x="971" y="291" width="1" height="29"/><rect x="969" y="298" width="5" height="13"/><rect x="979" y="304" width="1" height="46"/><rect x="977" y="310" width="5" height="33"/><rect x="987" y="335" width="1" height="5"/><rect x="985" y="335" width="5" height="5"/><rect x="986" y="336" width="3" height="3" fill="#fff"/><rect x="995" y="315" width="1" height="37"/><rect x="993" y="335" width="5" height="11"/><rect x="1003" y="338" width="1" height="23"/><rect x="1001" y="345" width="5" height="11"/><rect x="1011" y="354" width="1" height="65"/><rect x="1009" y="355" width="5" height="35"/><rect x="1019" y="368" width="1" height="62"/><rect x="1017" y="389" width="5" height="15"/><rect x="1027" y="375" width="1" height="66"/><rect x="1025" y="382" width="5" height="22"/><rect x="1026" y="383" width="3" height="20" fill="#fff"/><rect x="1035" y="392" width="1" height="14"/><rect x="1033" y="397" width="5" height="8"/><rect x="1043" y="392" width="1" height="26"/><rect x="1041" y="397" width="5" height="5"/><rect x="1042" y="398" width="3" height="3" fill="#fff"/><rect x="1051" y="301" width="1" height="105"/><rect x="1049" y="312" width="5" height="85"/><rect x="1050" y="313" width="3" height="83" fill="#fff"/><rect x="1059" y="303" width="1" height="103"/><rect x="1057" y="311" width="5" height="83"/><rect x="1067" y="352" width="1" height="57"/><rect x="1065" y="360" width="5" height="35"/><rect x="1066" y="361" width="3" height="33" fill="#fff"/><rect x="1075" y="356" width="1" height="36"/><rect x="1073" y="360" width="5" height="14"/><rect x="1083" y="358" width="1" height="14"/><rect x="1081" y="361" width="5" height="8"/><rect x="1082" y="362" width="3" height="6" fill="#fff"/><rect x="1091" y="229" width="1" height="136"/><rect x="1089" y="252" width="5" height="109"/><rect x="1090" y="253" width="3" height="107" fill="#fff"/><rect x="1099" y="189" width="1" height="76"/><rect x="1097" y="198" width="5" height="54"/><rect x="1098" y="199" width="3" height="52" fill="#fff"/><rect x="1107" y="165" width="1" height="51"/><rect x="1105" y="198" width="5" height="10"/><rect x="1115" y="206" width="1" height="79"/><rect x="1113" y="207" width="5" height="71"/><rect x="1123" y="248" width="1" height="46"/><rect x="1121" y="275" width="5" height="5"/><rect x="1131" y="252" width="1" height="23"/><rect x="1129" y="254" width="5" height="20"/><rect x="1130" y="255" width="3" height="18" fill="#fff"/><rect x="1139" y="232" width="1" height="56"/><rect x="1137" y="255" width="5" height="7"/><rect x="1147" y="255" width="1" height="26"/><rect x="1145" y="262" width="5" height="6"/><rect x="1155" y="263" width="1" height="25"/><rect x="1153" y="268" width="5" height="20"/><rect x="1163" y="272" width="1" height="39"/><rect x="1161" y="289" width="5" height="6"/><rect x="1171" y="269" width="1" height="28"/><rect x="1169" y="278" width="5" height="17"/><rect x="1170" y="279" width="3" height="15" fill="#fff"/><rect x="1179" y="267" width="1" height="5"/><rect x="1177" y="268" width="5" height="4"/><rect x="1178" y="269" width="3" height="2" fill="#fff"/><rect x="1187" y="210" width="1" height="58"/><rect x="1185" y="211" width="5" height="57"/><rect x="1186" y="212" width="3" height="55" fill="#fff"/><rect x="1195" y="186" width="1" height="35"/><rect x="1193" y="195" width="5" height="16"/><rect x="1194" y="196" width="3" height="14" fill="#fff"/><rect x="1203" y="185" width="1" height="41"/><rect x="1201" y="191" width="5" height="5"/><rect x="1202" y="192" width="3" height="3" fill="#fff"/><rect x="1211" y="188" width="1" height="42"/><rect x="1209" y="191" width="5" height="25"/><rect x="1219" y="215" width="1" height="43"/><rect x="1217" y="215" width="5" height="39"/><rect x="1227" y="231" width="1" height="14"/><rect x="1225" y="236" width="5" height="8"/><rect x="1226" y="237" width="3" height="6" fill="#fff"/><rect x="1235" y="203" width="1" height="50"/><rect x="1233" y="221" width="5" height="16"/><rect x="1234" y="222" width="3" height="14" fill="#fff"/><rect x="1243" y="170" width="1" height="58"/><rect x="1241" y="179" width="5" height="43"/><rect x="1242" y="180" width="3" height="41" fill="#fff"/><rect x="1251" y="158" width="1" height="73"/><rect x="1249" y="179" width="5" height="18"/><rect x="1259" y="170" width="1" height="31"/><rect x="1257" y="194" width="5" height="3"/><rect x="1258" y="195" width="3" height="1" fill="#fff"/><rect x="1267" y="145" width="1" height="61"/><rect x="1265" y="182" width="5" height="13"/><rect x="1266" y="183" width="3" height="11" fill="#fff"/><rect x="1275" y="184" width="1" height="7"/><rect x="1273" y="188" width="5" height="3"/><rect x="1274" y="189" width="3" height="1" fill="#fff"/><rect x="1283" y="187" width="1" height="90"/><rect x="1281" y="188" width="5" height="43"/><rect x="1291" y="208" width="1" height="46"/><rect x="1289" y="217" width="5" height="14"/><rect x="1290" y="218" width="3" height="12" fill="#fff"/><rect x="1299" y="170" width="1" height="49"/><rect x="1297" y="207" width="5" height="11"/><rect x="1298" y="208" width="3" height="9" fill="#fff"/><rect x="1307" y="194" width="1" height="61"/><rect x="1305" y="207" width="5" height="38"/><rect x="1315" y="243" width="1" height="86"/><rect x="1313" y="245" width="5" height="48"/><rect x="1323" y="240" width="1" height="16"/><rect x="1321" y="249" width="5" height="3"/><rect x="1331" y="205" width="1" height="55"/><rect x="1329" y="244" width="5" height="8"/><rect x="1330" y="245" width="3" height="6" fill="#fff"/><rect x="1339" y="197" width="1" height="63"/><rect x="1337" y="208" width="5" height="36"/><rect x="1338" y="209" width="3" height="34" fill="#fff"/><rect x="1347" y="176" width="1" height="43"/><rect x="1345" y="192" width="5" height="17"/><rect x="1346" y="193" width="3" height="15" fill="#fff"/><rect x="1355" y="158" width="1" height="40"/><rect x="1353" y="180" width="5" height="12"/><rect x="1354" y="181" width="3" height="10" fill="#fff"/><rect x="1363" y="170" width="1" height="40"/><rect x="1361" y="180" width="5" height="20"/><rect x="1371" y="228" width="1" height="23"/><rect x="1369" y="236" width="5" height="6"/><rect x="1379" y="202" width="1" height="119"/><rect x="1377" y="228" width="5" height="11"/><rect x="1378" y="229" width="3" height="9" fill="#fff"/><rect x="1387" y="219" width="1" height="53"/><rect x="1385" y="227" width="5" height="11"/><rect x="1395" y="170" width="1" height="78"/><rect x="1393" y="184" width="5" height="55"/><rect x="1394" y="185" width="3" height="53" fill="#fff"/><rect x="1403" y="122" width="1" height="64"/><rect x="1401" y="161" width="5" height="25"/><rect x="1402" y="162" width="3" height="23" fill="#fff"/><rect x="1411" y="155" width="1" height="11"/><rect x="1409" y="156" width="5" height="9"/><rect x="1410" y="157" width="3" height="7" fill="#fff"/><rect x="1419" y="155" width="1" height="49"/><rect x="1417" y="156" width="5" height="38"/><rect x="1427" y="171" width="1" height="26"/><rect x="1425" y="189" width="5" height="5"/><rect x="1426" y="190" width="3" height="3" fill="#fff"/><rect x="1435" y="147" width="1" height="46"/><rect x="1433" y="150" width="5" height="41"/><rect x="1434" y="151" width="3" height="39" fill="#fff"/></g>
<rect x="548.5" y="44.5" width="61" height="18" fill="#fff" stroke="#ff0000" stroke-width="1" shape-rendering="crispEdges"/><text x="550" y="59.5" font-size="16" fill="#ff0000" text-anchor="start" font-weight="normal" font-family="Liberation Sans, sans-serif"  textLength="57" lengthAdjust="spacingAndGlyphs">142.659</text><rect x="610" y="53" width="10" height="1" fill="#ff0000"/><rect x="1124" y="165" width="10" height="1" fill="#ff0000"/><rect x="1129.5" y="162.5" width="4" height="4" fill="#fff" stroke="#ff0000"/><rect x="1134.5" y="153.5" width="73" height="24" fill="#fff" stroke="#ff0000" stroke-width="1" shape-rendering="crispEdges"/><text x="1137" y="173.8" font-size="22.5" fill="#ff0000" text-anchor="start" font-weight="normal" font-family="Liberation Sans, sans-serif"  textLength="69" lengthAdjust="spacingAndGlyphs">140.262</text><rect x="1196.5" y="136.5" width="61" height="18" fill="#fff" stroke="#ff0000" stroke-width="1" shape-rendering="crispEdges"/><text x="1198" y="151.5" font-size="16" fill="#ff0000" text-anchor="start" font-weight="normal" font-family="Liberation Sans, sans-serif"  textLength="57" lengthAdjust="spacingAndGlyphs">140.693</text><rect x="1258" y="145" width="10" height="1" fill="#ff0000"/><rect x="1324.5" y="113.5" width="61" height="18" fill="#fff" stroke="#ff0000" stroke-width="1" shape-rendering="crispEdges"/><text x="1326" y="128.5" font-size="16" fill="#ff0000" text-anchor="start" font-weight="normal" font-family="Liberation Sans, sans-serif"  textLength="57" lengthAdjust="spacingAndGlyphs">141.180</text><rect x="1386" y="122" width="10" height="1" fill="#ff0000"/><rect x="1308.5" y="312.5" width="61" height="18" fill="#fff" stroke="#ff0000" stroke-width="1" shape-rendering="crispEdges"/><text x="1310" y="327.5" font-size="16" fill="#ff0000" text-anchor="start" font-weight="normal" font-family="Liberation Sans, sans-serif"  textLength="57" lengthAdjust="spacingAndGlyphs">136.933</text><rect x="1315" y="312" width="1" height="17" fill="#000"/><rect x="1370" y="321" width="10" height="1" fill="#ff0000"/><rect x="-9.5" y="182.5" width="19" height="18" fill="#fff" stroke="#ff0000" stroke-width="1" shape-rendering="crispEdges"/><text x="1" y="197.5" font-size="16" fill="#ff0000" text-anchor="start" font-weight="normal" font-family="Liberation Sans, sans-serif" >5</text><rect x="10" y="191" width="10" height="1" fill="#ff0000"/><line x1="1377.5" y1="309" x2="1410.5111889434768" y2="139.75953837428798" stroke="#ff0000" stroke-width="3.2" stroke-linecap="butt"/><path d="M1413,127 L1415.026102522071,140.64019459428852 L1405.9962753648826,138.87888215428745 Z" fill="#ff0000"/><line x1="1413" y1="127" x2="1427.7270738139782" y2="175.55954068392845" stroke="#ff0000" stroke-width="3.2" stroke-linecap="butt"/><path d="M1431.5,188 L1423.3250651329067,176.89457610359767 L1432.1290824950497,174.22450526425922 Z" fill="#ff0000"/><line x1="1433" y1="180" x2="1449.0921511485792" y2="144.82180911705933" stroke="#ff0000" stroke-width="3.2" stroke-linecap="butt"/><path d="M1454.5,133 L1453.275252836154,146.7353556337159 L1444.9090494610043,142.90826260040276 Z" fill="#ff0000"/><rect x="1227" y="163" width="232" height="7" fill="#00ff00"/><text x="1461" y="171" font-size="20" fill="#00ff00" text-anchor="start" font-weight="300" font-family="Liberation Sans, sans-serif"  textLength="107" lengthAdjust="spacingAndGlyphs">多空转折点</text><path d="M1443,25 L1452,25 L1447.5,29.5 Z" fill="#a0a0a0"/>
<g clip-path="url(#clipMacd)">
<g fill="#c0c0c0" shape-rendering="crispEdges"><rect x="3" y="634" width="1" height="40"/><rect x="11" y="621" width="1" height="53"/><rect x="19" y="606" width="1" height="68"/><rect x="27" y="593" width="1" height="81"/><rect x="35" y="589" width="1" height="85"/><rect x="43" y="591" width="1" height="83"/><rect x="51" y="598" width="1" height="76"/><rect x="59" y="612" width="1" height="62"/><rect x="67" y="623" width="1" height="51"/><rect x="75" y="632" width="1" height="42"/><rect x="83" y="634" width="1" height="40"/><rect x="91" y="638" width="1" height="36"/><rect x="99" y="646" width="1" height="28"/><rect x="107" y="657" width="1" height="17"/><rect x="115" y="670" width="1" height="4"/><rect x="123" y="673" width="1" height="8"/><rect x="131" y="673" width="1" height="9"/><rect x="139" y="673" width="1" height="11"/><rect x="147" y="673" width="1" height="15"/><rect x="155" y="673" width="1" height="16"/><rect x="163" y="673" width="1" height="20"/><rect x="171" y="673" width="1" height="24"/><rect x="179" y="673" width="1" height="25"/><rect x="187" y="673" width="1" height="21"/><rect x="195" y="673" width="1" height="17"/><rect x="203" y="673" width="1" height="13"/><rect x="211" y="673" width="1" height="9"/><rect x="219" y="673" width="1" height="6"/><rect x="227" y="673" width="1" height="3"/><rect x="235" y="671" width="1" height="3"/><rect x="243" y="666" width="1" height="8"/><rect x="251" y="662" width="1" height="12"/><rect x="259" y="660" width="1" height="14"/><rect x="267" y="658" width="1" height="16"/><rect x="275" y="659" width="1" height="15"/><rect x="283" y="659" width="1" height="15"/><rect x="291" y="660" width="1" height="14"/><rect x="299" y="660" width="1" height="14"/><rect x="307" y="662" width="1" height="12"/><rect x="315" y="662" width="1" height="12"/><rect x="323" y="659" width="1" height="15"/><rect x="331" y="655" width="1" height="19"/><rect x="339" y="650" width="1" height="24"/><rect x="347" y="648" width="1" height="26"/><rect x="355" y="649" width="1" height="25"/><rect x="363" y="650" width="1" height="24"/><rect x="371" y="650" width="1" height="24"/><rect x="379" y="650" width="1" height="24"/><rect x="387" y="649" width="1" height="25"/><rect x="395" y="644" width="1" height="30"/><rect x="403" y="635" width="1" height="39"/><rect x="411" y="628" width="1" height="46"/><rect x="419" y="623" width="1" height="51"/><rect x="427" y="622" width="1" height="52"/><rect x="435" y="620" width="1" height="54"/><rect x="443" y="618" width="1" height="56"/><rect x="451" y="620" width="1" height="54"/><rect x="459" y="622" width="1" height="52"/><rect x="467" y="622" width="1" height="52"/><rect x="475" y="621" width="1" height="53"/><rect x="483" y="620" width="1" height="54"/><rect x="491" y="618" width="1" height="56"/><rect x="499" y="618" width="1" height="56"/><rect x="507" y="618" width="1" height="56"/><rect x="515" y="621" width="1" height="53"/><rect x="523" y="623" width="1" height="51"/><rect x="531" y="626" width="1" height="48"/><rect x="539" y="626" width="1" height="48"/><rect x="547" y="632" width="1" height="42"/><rect x="555" y="636" width="1" height="38"/><rect x="563" y="641" width="1" height="33"/><rect x="571" y="639" width="1" height="35"/><rect x="579" y="638" width="1" height="36"/><rect x="587" y="634" width="1" height="40"/><rect x="595" y="632" width="1" height="42"/><rect x="603" y="629" width="1" height="45"/><rect x="611" y="625" width="1" height="49"/><rect x="619" y="621" width="1" height="53"/><rect x="627" y="619" width="1" height="55"/><rect x="635" y="623" width="1" height="51"/><rect x="643" y="625" width="1" height="49"/><rect x="651" y="628" width="1" height="46"/><rect x="659" y="634" width="1" height="40"/><rect x="667" y="650" width="1" height="24"/><rect x="675" y="660" width="1" height="14"/><rect x="683" y="673" width="1" height="4"/><rect x="691" y="673" width="1" height="18"/><rect x="699" y="673" width="1" height="28"/><rect x="707" y="673" width="1" height="36"/><rect x="715" y="673" width="1" height="42"/><rect x="723" y="673" width="1" height="44"/><rect x="731" y="673" width="1" height="47"/><rect x="739" y="673" width="1" height="52"/><rect x="747" y="673" width="1" height="55"/><rect x="755" y="673" width="1" height="60"/><rect x="763" y="673" width="1" height="66"/><rect x="771" y="673" width="1" height="69"/><rect x="779" y="673" width="1" height="68"/><rect x="787" y="673" width="1" height="67"/><rect x="795" y="673" width="1" height="64"/><rect x="803" y="673" width="1" height="57"/><rect x="811" y="673" width="1" height="50"/><rect x="819" y="673" width="1" height="43"/><rect x="827" y="673" width="1" height="38"/><rect x="835" y="673" width="1" height="32"/><rect x="843" y="673" width="1" height="26"/><rect x="851" y="673" width="1" height="18"/><rect x="859" y="673" width="1" height="17"/><rect x="867" y="673" width="1" height="12"/><rect x="875" y="673" width="1" height="7"/><rect x="883" y="673" width="1" height="1"/><rect x="891" y="669" width="1" height="5"/><rect x="899" y="666" width="1" height="8"/><rect x="907" y="668" width="1" height="6"/><rect x="915" y="669" width="1" height="5"/><rect x="923" y="673" width="1" height="1"/><rect x="931" y="673" width="1" height="1"/><rect x="939" y="673" width="1" height="2"/><rect x="947" y="673" width="1" height="2"/><rect x="955" y="673" width="1" height="2"/><rect x="963" y="671" width="1" height="3"/><rect x="971" y="669" width="1" height="5"/><rect x="979" y="671" width="1" height="3"/><rect x="987" y="671" width="1" height="3"/><rect x="995" y="673" width="1" height="1"/><rect x="1003" y="673" width="1" height="2"/><rect x="1011" y="673" width="1" height="6"/><rect x="1019" y="673" width="1" height="11"/><rect x="1027" y="673" width="1" height="12"/><rect x="1035" y="673" width="1" height="16"/><rect x="1043" y="673" width="1" height="17"/><rect x="1051" y="673" width="1" height="11"/><rect x="1059" y="673" width="1" height="13"/><rect x="1067" y="673" width="1" height="12"/><rect x="1075" y="673" width="1" height="12"/><rect x="1083" y="673" width="1" height="10"/><rect x="1091" y="673" width="1" height="1"/><rect x="1099" y="659" width="1" height="15"/><rect x="1107" y="650" width="1" height="24"/><rect x="1115" y="649" width="1" height="25"/><rect x="1123" y="649" width="1" height="25"/><rect x="1131" y="647" width="1" height="27"/><rect x="1139" y="646" width="1" height="28"/><rect x="1147" y="647" width="1" height="27"/><rect x="1155" y="649" width="1" height="25"/><rect x="1163" y="651" width="1" height="23"/><rect x="1171" y="652" width="1" height="22"/><rect x="1179" y="653" width="1" height="21"/><rect x="1187" y="648" width="1" height="26"/><rect x="1195" y="643" width="1" height="31"/><rect x="1203" y="639" width="1" height="35"/><rect x="1211" y="639" width="1" height="35"/><rect x="1219" y="642" width="1" height="32"/><rect x="1227" y="644" width="1" height="30"/><rect x="1235" y="644" width="1" height="30"/><rect x="1243" y="641" width="1" height="33"/><rect x="1251" y="640" width="1" height="34"/><rect x="1259" y="640" width="1" height="34"/><rect x="1267" y="639" width="1" height="35"/><rect x="1275" y="639" width="1" height="35"/><rect x="1283" y="644" width="1" height="30"/><rect x="1291" y="646" width="1" height="28"/><rect x="1299" y="648" width="1" height="26"/><rect x="1307" y="652" width="1" height="22"/><rect x="1315" y="660" width="1" height="14"/><rect x="1323" y="663" width="1" height="11"/><rect x="1331" y="665" width="1" height="9"/><rect x="1339" y="663" width="1" height="11"/><rect x="1347" y="661" width="1" height="13"/><rect x="1355" y="658" width="1" height="16"/><rect x="1363" y="658" width="1" height="16"/><rect x="1371" y="661" width="1" height="13"/><rect x="1379" y="663" width="1" height="11"/><rect x="1387" y="665" width="1" height="9"/><rect x="1395" y="662" width="1" height="12"/><rect x="1403" y="658" width="1" height="16"/><rect x="1411" y="655" width="1" height="19"/><rect x="1419" y="656" width="1" height="18"/><rect x="1427" y="656" width="1" height="18"/><rect x="1435" y="653" width="1" height="21"/></g><polyline points="3.5,670.2 11.5,660.7 19.5,650.6 27.5,640.0 35.5,630.0 43.5,621.3 51.5,614.3 59.5,609.8 67.5,607.6 75.5,607.4 83.5,608.8 91.5,612.3 99.5,618.2 107.5,625.7 115.5,634.5 123.5,643.7 131.5,651.5 139.5,658.3 147.5,664.5 155.5,670.6 163.5,676.8 171.5,682.4 179.5,686.9 187.5,689.5 195.5,690.5 203.5,691.0 211.5,690.7 219.5,689.7 227.5,688.3 235.5,685.8 243.5,682.4 251.5,678.3 259.5,674.5 267.5,671.0 275.5,668.0 283.5,665.4 291.5,663.2 299.5,661.4 307.5,660.4 315.5,660.0 323.5,659.7 331.5,659.1 339.5,658.2 347.5,657.1 355.5,656.0 363.5,654.9 371.5,653.8 379.5,652.6 387.5,651.1 395.5,649.4 403.5,647.2 411.5,644.7 419.5,641.9 427.5,638.9 435.5,635.6 443.5,632.1 451.5,628.6 459.5,625.6 467.5,623.3 475.5,621.8 483.5,620.9 491.5,620.3 499.5,619.8 507.5,619.6 515.5,619.9 523.5,620.2 531.5,620.6 539.5,621.1 547.5,622.3 555.5,624.1 563.5,626.7 571.5,629.0 579.5,631.3 587.5,632.7 595.5,633.7 603.5,634.1 611.5,633.9 619.5,632.8 627.5,630.9 635.5,628.9 643.5,627.3 651.5,626.2 659.5,626.2 667.5,628.3 675.5,631.7 683.5,637.5 691.5,645.3 699.5,654.4 707.5,663.9 715.5,673.9 723.5,683.9 731.5,693.5 739.5,701.8 747.5,709.2 755.5,715.5 763.5,720.8 771.5,725.3 779.5,728.9 787.5,731.7 795.5,733.9 803.5,734.9 811.5,734.7 819.5,733.4 827.5,730.9 835.5,727.1 843.5,722.4 851.5,716.9 859.5,711.3 867.5,705.5 875.5,699.9 883.5,694.5 891.5,689.3 899.5,684.3 907.5,680.3 915.5,676.9 923.5,674.8 931.5,673.1 939.5,672.0 947.5,671.5 955.5,671.6 963.5,671.8 971.5,672.2 979.5,672.5 987.5,672.8 995.5,672.8 1003.5,672.8 1011.5,673.2 1019.5,674.2 1027.5,675.3 1035.5,677.3 1043.5,679.6 1051.5,681.1 1059.5,682.7 1067.5,684.1 1075.5,685.2 1083.5,685.6 1091.5,684.4 1099.5,681.5 1107.5,677.2 1115.5,672.7 1123.5,668.8 1131.5,664.4 1139.5,660.2 1147.5,655.9 1155.5,652.1 1163.5,649.8 1171.5,649.0 1179.5,649.3 1187.5,649.1 1195.5,648.5 1203.5,647.6 1211.5,646.8 1219.5,646.3 1227.5,645.8 1235.5,645.0 1243.5,643.7 1251.5,642.4 1259.5,641.5 1267.5,641.1 1275.5,641.1 1283.5,641.6 1291.5,642.0 1299.5,642.4 1307.5,643.3 1315.5,645.5 1323.5,648.0 1331.5,650.8 1339.5,653.5 1347.5,655.9 1355.5,657.5 1363.5,658.7 1371.5,660.2 1379.5,661.4 1387.5,661.9 1395.5,661.8 1403.5,661.0 1411.5,660.1 1419.5,659.5 1427.5,659.3 1435.5,658.8" fill="none" stroke="#ff0000" stroke-width="1" shape-rendering="crispEdges" stroke-dasharray="3,3"/>
</g>
<g clip-path="url(#clipRsi)">
<g fill="#c0c0c0" shape-rendering="crispEdges"><rect x="2" y="787" width="3" height="1"/><rect x="8" y="787" width="3" height="1"/><rect x="14" y="787" width="3" height="1"/><rect x="20" y="787" width="3" height="1"/><rect x="26" y="787" width="3" height="1"/><rect x="32" y="787" width="3" height="1"/><rect x="38" y="787" width="3" height="1"/><rect x="44" y="787" width="3" height="1"/><rect x="50" y="787" width="3" height="1"/><rect x="56" y="787" width="3" height="1"/><rect x="62" y="787" width="3" height="1"/><rect x="68" y="787" width="3" height="1"/><rect x="74" y="787" width="3" height="1"/><rect x="80" y="787" width="3" height="1"/><rect x="86" y="787" width="3" height="1"/><rect x="92" y="787" width="3" height="1"/><rect x="98" y="787" width="3" height="1"/><rect x="104" y="787" width="3" height="1"/><rect x="110" y="787" width="3" height="1"/><rect x="116" y="787" width="3" height="1"/><rect x="122" y="787" width="3" height="1"/><rect x="128" y="787" width="3" height="1"/><rect x="134" y="787" width="3" height="1"/><rect x="140" y="787" width="3" height="1"/><rect x="146" y="787" width="3" height="1"/><rect x="152" y="787" width="3" height="1"/><rect x="158" y="787" width="3" height="1"/><rect x="164" y="787" width="3" height="1"/><rect x="170" y="787" width="3" height="1"/><rect x="176" y="787" width="3" height="1"/><rect x="182" y="787" width="3" height="1"/><rect x="188" y="787" width="3" height="1"/><rect x="194" y="787" width="3" height="1"/><rect x="200" y="787" width="3" height="1"/><rect x="206" y="787" width="3" height="1"/><rect x="212" y="787" width="3" height="1"/><rect x="218" y="787" width="3" height="1"/><rect x="224" y="787" width="3" height="1"/><rect x="230" y="787" width="3" height="1"/><rect x="236" y="787" width="3" height="1"/><rect x="242" y="787" width="3" height="1"/><rect x="248" y="787" width="3" height="1"/><rect x="254" y="787" width="3" height="1"/><rect x="260" y="787" width="3" height="1"/><rect x="266" y="787" width="3" height="1"/><rect x="272" y="787" width="3" height="1"/><rect x="278" y="787" width="3" height="1"/><rect x="284" y="787" width="3" height="1"/><rect x="290" y="787" width="3" height="1"/><rect x="296" y="787" width="3" height="1"/><rect x="302" y="787" width="3" height="1"/><rect x="308" y="787" width="3" height="1"/><rect x="314" y="787" width="3" height="1"/><rect x="320" y="787" width="3" height="1"/><rect x="326" y="787" width="3" height="1"/><rect x="332" y="787" width="3" height="1"/><rect x="338" y="787" width="3" height="1"/><rect x="344" y="787" width="3" height="1"/><rect x="350" y="787" width="3" height="1"/><rect x="356" y="787" width="3" height="1"/><rect x="362" y="787" width="3" height="1"/><rect x="368" y="787" width="3" height="1"/><rect x="374" y="787" width="3" height="1"/><rect x="380" y="787" width="3" height="1"/><rect x="386" y="787" width="3" height="1"/><rect x="392" y="787" width="3" height="1"/><rect x="398" y="787" width="3" height="1"/><rect x="404" y="787" width="3" height="1"/><rect x="410" y="787" width="3" height="1"/><rect x="416" y="787" width="3" height="1"/><rect x="422" y="787" width="3" height="1"/><rect x="428" y="787" width="3" height="1"/><rect x="434" y="787" width="3" height="1"/><rect x="440" y="787" width="3" height="1"/><rect x="446" y="787" width="3" height="1"/><rect x="452" y="787" width="3" height="1"/><rect x="458" y="787" width="3" height="1"/><rect x="464" y="787" width="3" height="1"/><rect x="470" y="787" width="3" height="1"/><rect x="476" y="787" width="3" height="1"/><rect x="482" y="787" width="3" height="1"/><rect x="488" y="787" width="3" height="1"/><rect x="494" y="787" width="3" height="1"/><rect x="500" y="787" width="3" height="1"/><rect x="506" y="787" width="3" height="1"/><rect x="512" y="787" width="3" height="1"/><rect x="518" y="787" width="3" height="1"/><rect x="524" y="787" width="3" height="1"/><rect x="530" y="787" width="3" height="1"/><rect x="536" y="787" width="3" height="1"/><rect x="542" y="787" width="3" height="1"/><rect x="548" y="787" width="3" height="1"/><rect x="554" y="787" width="3" height="1"/><rect x="560" y="787" width="3" height="1"/><rect x="566" y="787" width="3" height="1"/><rect x="572" y="787" width="3" height="1"/><rect x="578" y="787" width="3" height="1"/><rect x="584" y="787" width="3" height="1"/><rect x="590" y="787" width="3" height="1"/><rect x="596" y="787" width="3" height="1"/><rect x="602" y="787" width="3" height="1"/><rect x="608" y="787" width="3" height="1"/><rect x="614" y="787" width="3" height="1"/><rect x="620" y="787" width="3" height="1"/><rect x="626" y="787" width="3" height="1"/><rect x="632" y="787" width="3" height="1"/><rect x="638" y="787" width="3" height="1"/><rect x="644" y="787" width="3" height="1"/><rect x="650" y="787" width="3" height="1"/><rect x="656" y="787" width="3" height="1"/><rect x="662" y="787" width="3" height="1"/><rect x="668" y="787" width="3" height="1"/><rect x="674" y="787" width="3" height="1"/><rect x="680" y="787" width="3" height="1"/><rect x="686" y="787" width="3" height="1"/><rect x="692" y="787" width="3" height="1"/><rect x="698" y="787" width="3" height="1"/><rect x="704" y="787" width="3" height="1"/><rect x="710" y="787" width="3" height="1"/><rect x="716" y="787" width="3" height="1"/><rect x="722" y="787" width="3" height="1"/><rect x="728" y="787" width="3" height="1"/><rect x="734" y="787" width="3" height="1"/><rect x="740" y="787" width="3" height="1"/><rect x="746" y="787" width="3" height="1"/><rect x="752" y="787" width="3" height="1"/><rect x="758" y="787" width="3" height="1"/><rect x="764" y="787" width="3" height="1"/><rect x="770" y="787" width="3" height="1"/><rect x="776" y="787" width="3" height="1"/><rect x="782" y="787" width="3" height="1"/><rect x="788" y="787" width="3" height="1"/><rect x="794" y="787" width="3" height="1"/><rect x="800" y="787" width="3" height="1"/><rect x="806" y="787" width="3" height="1"/><rect x="812" y="787" width="3" height="1"/><rect x="818" y="787" width="3" height="1"/><rect x="824" y="787" width="3" height="1"/><rect x="830" y="787" width="3" height="1"/><rect x="836" y="787" width="3" height="1"/><rect x="842" y="787" width="3" height="1"/><rect x="848" y="787" width="3" height="1"/><rect x="854" y="787" width="3" height="1"/><rect x="860" y="787" width="3" height="1"/><rect x="866" y="787" width="3" height="1"/><rect x="872" y="787" width="3" height="1"/><rect x="878" y="787" width="3" height="1"/><rect x="884" y="787" width="3" height="1"/><rect x="890" y="787" width="3" height="1"/><rect x="896" y="787" width="3" height="1"/><rect x="902" y="787" width="3" height="1"/><rect x="908" y="787" width="3" height="1"/><rect x="914" y="787" width="3" height="1"/><rect x="920" y="787" width="3" height="1"/><rect x="926" y="787" width="3" height="1"/><rect x="932" y="787" width="3" height="1"/><rect x="938" y="787" width="3" height="1"/><rect x="944" y="787" width="3" height="1"/><rect x="950" y="787" width="3" height="1"/><rect x="956" y="787" width="3" height="1"/><rect x="962" y="787" width="3" height="1"/><rect x="968" y="787" width="3" height="1"/><rect x="974" y="787" width="3" height="1"/><rect x="980" y="787" width="3" height="1"/><rect x="986" y="787" width="3" height="1"/><rect x="992" y="787" width="3" height="1"/><rect x="998" y="787" width="3" height="1"/><rect x="1004" y="787" width="3" height="1"/><rect x="1010" y="787" width="3" height="1"/><rect x="1016" y="787" width="3" height="1"/><rect x="1022" y="787" width="3" height="1"/><rect x="1028" y="787" width="3" height="1"/><rect x="1034" y="787" width="3" height="1"/><rect x="1040" y="787" width="3" height="1"/><rect x="1046" y="787" width="3" height="1"/><rect x="1052" y="787" width="3" height="1"/><rect x="1058" y="787" width="3" height="1"/><rect x="1064" y="787" width="3" height="1"/><rect x="1070" y="787" width="3" height="1"/><rect x="1076" y="787" width="3" height="1"/><rect x="1082" y="787" width="3" height="1"/><rect x="1088" y="787" width="3" height="1"/><rect x="1094" y="787" width="3" height="1"/><rect x="1100" y="787" width="3" height="1"/><rect x="1106" y="787" width="3" height="1"/><rect x="1112" y="787" width="3" height="1"/><rect x="1118" y="787" width="3" height="1"/><rect x="1124" y="787" width="3" height="1"/><rect x="1130" y="787" width="3" height="1"/><rect x="1136" y="787" width="3" height="1"/><rect x="1142" y="787" width="3" height="1"/><rect x="1148" y="787" width="3" height="1"/><rect x="1154" y="787" width="3" height="1"/><rect x="1160" y="787" width="3" height="1"/><rect x="1166" y="787" width="3" height="1"/><rect x="1172" y="787" width="3" height="1"/><rect x="1178" y="787" width="3" height="1"/><rect x="1184" y="787" width="3" height="1"/><rect x="1190" y="787" width="3" height="1"/><rect x="1196" y="787" width="3" height="1"/><rect x="1202" y="787" width="3" height="1"/><rect x="1208" y="787" width="3" height="1"/><rect x="1214" y="787" width="3" height="1"/><rect x="1220" y="787" width="3" height="1"/><rect x="1226" y="787" width="3" height="1"/><rect x="1232" y="787" width="3" height="1"/><rect x="1238" y="787" width="3" height="1"/><rect x="1244" y="787" width="3" height="1"/><rect x="1250" y="787" width="3" height="1"/><rect x="1256" y="787" width="3" height="1"/><rect x="1262" y="787" width="3" height="1"/><rect x="1268" y="787" width="3" height="1"/><rect x="1274" y="787" width="3" height="1"/><rect x="1280" y="787" width="3" height="1"/><rect x="1286" y="787" width="3" height="1"/><rect x="1292" y="787" width="3" height="1"/><rect x="1298" y="787" width="3" height="1"/><rect x="1304" y="787" width="3" height="1"/><rect x="1310" y="787" width="3" height="1"/><rect x="1316" y="787" width="3" height="1"/><rect x="1322" y="787" width="3" height="1"/><rect x="1328" y="787" width="3" height="1"/><rect x="1334" y="787" width="3" height="1"/><rect x="1340" y="787" width="3" height="1"/><rect x="1346" y="787" width="3" height="1"/><rect x="1352" y="787" width="3" height="1"/><rect x="1358" y="787" width="3" height="1"/><rect x="1364" y="787" width="3" height="1"/><rect x="1370" y="787" width="3" height="1"/><rect x="1376" y="787" width="3" height="1"/><rect x="1382" y="787" width="3" height="1"/><rect x="1388" y="787" width="3" height="1"/><rect x="1394" y="787" width="3" height="1"/><rect x="1400" y="787" width="3" height="1"/><rect x="1406" y="787" width="3" height="1"/><rect x="1412" y="787" width="3" height="1"/><rect x="1418" y="787" width="3" height="1"/><rect x="1424" y="787" width="3" height="1"/><rect x="1430" y="787" width="3" height="1"/><rect x="1436" y="787" width="3" height="1"/><rect x="1442" y="787" width="3" height="1"/><rect x="1448" y="787" width="3" height="1"/><rect x="1454" y="787" width="3" height="1"/><rect x="1460" y="787" width="3" height="1"/><rect x="1466" y="787" width="3" height="1"/><rect x="1472" y="787" width="3" height="1"/><rect x="1478" y="787" width="3" height="1"/><rect x="1484" y="787" width="3" height="1"/><rect x="1490" y="787" width="3" height="1"/><rect x="1496" y="787" width="3" height="1"/><rect x="1502" y="787" width="3" height="1"/><rect x="1508" y="787" width="3" height="1"/><rect x="1514" y="787" width="3" height="1"/><rect x="1520" y="787" width="3" height="1"/><rect x="1526" y="787" width="3" height="1"/><rect x="1532" y="787" width="3" height="1"/><rect x="1538" y="787" width="3" height="1"/><rect x="1544" y="787" width="3" height="1"/><rect x="1550" y="787" width="3" height="1"/><rect x="1556" y="787" width="3" height="1"/><rect x="1562" y="787" width="3" height="1"/><rect x="1568" y="787" width="3" height="1"/><rect x="1574" y="787" width="3" height="1"/><rect x="1580" y="787" width="3" height="1"/><rect x="1586" y="787" width="3" height="1"/><rect x="1592" y="787" width="3" height="1"/><rect x="1598" y="787" width="3" height="1"/><rect x="1604" y="787" width="3" height="1"/><rect x="1610" y="787" width="3" height="1"/><rect x="1616" y="787" width="3" height="1"/><rect x="1622" y="787" width="3" height="1"/><rect x="1628" y="787" width="3" height="1"/><rect x="1634" y="787" width="3" height="1"/><rect x="1640" y="787" width="3" height="1"/><rect x="1646" y="787" width="3" height="1"/><rect x="1652" y="787" width="3" height="1"/><rect x="1658" y="787" width="3" height="1"/><rect x="1664" y="787" width="3" height="1"/><rect x="1670" y="787" width="3" height="1"/><rect x="1676" y="787" width="3" height="1"/><rect x="1682" y="787" width="3" height="1"/><rect x="2" y="838" width="3" height="1"/><rect x="8" y="838" width="3" height="1"/><rect x="14" y="838" width="3" height="1"/><rect x="20" y="838" width="3" height="1"/><rect x="26" y="838" width="3" height="1"/><rect x="32" y="838" width="3" height="1"/><rect x="38" y="838" width="3" height="1"/><rect x="44" y="838" width="3" height="1"/><rect x="50" y="838" width="3" height="1"/><rect x="56" y="838" width="3" height="1"/><rect x="62" y="838" width="3" height="1"/><rect x="68" y="838" width="3" height="1"/><rect x="74" y="838" width="3" height="1"/><rect x="80" y="838" width="3" height="1"/><rect x="86" y="838" width="3" height="1"/><rect x="92" y="838" width="3" height="1"/><rect x="98" y="838" width="3" height="1"/><rect x="104" y="838" width="3" height="1"/><rect x="110" y="838" width="3" height="1"/><rect x="116" y="838" width="3" height="1"/><rect x="122" y="838" width="3" height="1"/><rect x="128" y="838" width="3" height="1"/><rect x="134" y="838" width="3" height="1"/><rect x="140" y="838" width="3" height="1"/><rect x="146" y="838" width="3" height="1"/><rect x="152" y="838" width="3" height="1"/><rect x="158" y="838" width="3" height="1"/><rect x="164" y="838" width="3" height="1"/><rect x="170" y="838" width="3" height="1"/><rect x="176" y="838" width="3" height="1"/><rect x="182" y="838" width="3" height="1"/><rect x="188" y="838" width="3" height="1"/><rect x="194" y="838" width="3" height="1"/><rect x="200" y="838" width="3" height="1"/><rect x="206" y="838" width="3" height="1"/><rect x="212" y="838" width="3" height="1"/><rect x="218" y="838" width="3" height="1"/><rect x="224" y="838" width="3" height="1"/><rect x="230" y="838" width="3" height="1"/><rect x="236" y="838" width="3" height="1"/><rect x="242" y="838" width="3" height="1"/><rect x="248" y="838" width="3" height="1"/><rect x="254" y="838" width="3" height="1"/><rect x="260" y="838" width="3" height="1"/><rect x="266" y="838" width="3" height="1"/><rect x="272" y="838" width="3" height="1"/><rect x="278" y="838" width="3" height="1"/><rect x="284" y="838" width="3" height="1"/><rect x="290" y="838" width="3" height="1"/><rect x="296" y="838" width="3" height="1"/><rect x="302" y="838" width="3" height="1"/><rect x="308" y="838" width="3" height="1"/><rect x="314" y="838" width="3" height="1"/><rect x="320" y="838" width="3" height="1"/><rect x="326" y="838" width="3" height="1"/><rect x="332" y="838" width="3" height="1"/><rect x="338" y="838" width="3" height="1"/><rect x="344" y="838" width="3" height="1"/><rect x="350" y="838" width="3" height="1"/><rect x="356" y="838" width="3" height="1"/><rect x="362" y="838" width="3" height="1"/><rect x="368" y="838" width="3" height="1"/><rect x="374" y="838" width="3" height="1"/><rect x="380" y="838" width="3" height="1"/><rect x="386" y="838" width="3" height="1"/><rect x="392" y="838" width="3" height="1"/><rect x="398" y="838" width="3" height="1"/><rect x="404" y="838" width="3" height="1"/><rect x="410" y="838" width="3" height="1"/><rect x="416" y="838" width="3" height="1"/><rect x="422" y="838" width="3" height="1"/><rect x="428" y="838" width="3" height="1"/><rect x="434" y="838" width="3" height="1"/><rect x="440" y="838" width="3" height="1"/><rect x="446" y="838" width="3" height="1"/><rect x="452" y="838" width="3" height="1"/><rect x="458" y="838" width="3" height="1"/><rect x="464" y="838" width="3" height="1"/><rect x="470" y="838" width="3" height="1"/><rect x="476" y="838" width="3" height="1"/><rect x="482" y="838" width="3" height="1"/><rect x="488" y="838" width="3" height="1"/><rect x="494" y="838" width="3" height="1"/><rect x="500" y="838" width="3" height="1"/><rect x="506" y="838" width="3" height="1"/><rect x="512" y="838" width="3" height="1"/><rect x="518" y="838" width="3" height="1"/><rect x="524" y="838" width="3" height="1"/><rect x="530" y="838" width="3" height="1"/><rect x="536" y="838" width="3" height="1"/><rect x="542" y="838" width="3" height="1"/><rect x="548" y="838" width="3" height="1"/><rect x="554" y="838" width="3" height="1"/><rect x="560" y="838" width="3" height="1"/><rect x="566" y="838" width="3" height="1"/><rect x="572" y="838" width="3" height="1"/><rect x="578" y="838" width="3" height="1"/><rect x="584" y="838" width="3" height="1"/><rect x="590" y="838" width="3" height="1"/><rect x="596" y="838" width="3" height="1"/><rect x="602" y="838" width="3" height="1"/><rect x="608" y="838" width="3" height="1"/><rect x="614" y="838" width="3" height="1"/><rect x="620" y="838" width="3" height="1"/><rect x="626" y="838" width="3" height="1"/><rect x="632" y="838" width="3" height="1"/><rect x="638" y="838" width="3" height="1"/><rect x="644" y="838" width="3" height="1"/><rect x="650" y="838" width="3" height="1"/><rect x="656" y="838" width="3" height="1"/><rect x="662" y="838" width="3" height="1"/><rect x="668" y="838" width="3" height="1"/><rect x="674" y="838" width="3" height="1"/><rect x="680" y="838" width="3" height="1"/><rect x="686" y="838" width="3" height="1"/><rect x="692" y="838" width="3" height="1"/><rect x="698" y="838" width="3" height="1"/><rect x="704" y="838" width="3" height="1"/><rect x="710" y="838" width="3" height="1"/><rect x="716" y="838" width="3" height="1"/><rect x="722" y="838" width="3" height="1"/><rect x="728" y="838" width="3" height="1"/><rect x="734" y="838" width="3" height="1"/><rect x="740" y="838" width="3" height="1"/><rect x="746" y="838" width="3" height="1"/><rect x="752" y="838" width="3" height="1"/><rect x="758" y="838" width="3" height="1"/><rect x="764" y="838" width="3" height="1"/><rect x="770" y="838" width="3" height="1"/><rect x="776" y="838" width="3" height="1"/><rect x="782" y="838" width="3" height="1"/><rect x="788" y="838" width="3" height="1"/><rect x="794" y="838" width="3" height="1"/><rect x="800" y="838" width="3" height="1"/><rect x="806" y="838" width="3" height="1"/><rect x="812" y="838" width="3" height="1"/><rect x="818" y="838" width="3" height="1"/><rect x="824" y="838" width="3" height="1"/><rect x="830" y="838" width="3" height="1"/><rect x="836" y="838" width="3" height="1"/><rect x="842" y="838" width="3" height="1"/><rect x="848" y="838" width="3" height="1"/><rect x="854" y="838" width="3" height="1"/><rect x="860" y="838" width="3" height="1"/><rect x="866" y="838" width="3" height="1"/><rect x="872" y="838" width="3" height="1"/><rect x="878" y="838" width="3" height="1"/><rect x="884" y="838" width="3" height="1"/><rect x="890" y="838" width="3" height="1"/><rect x="896" y="838" width="3" height="1"/><rect x="902" y="838" width="3" height="1"/><rect x="908" y="838" width="3" height="1"/><rect x="914" y="838" width="3" height="1"/><rect x="920" y="838" width="3" height="1"/><rect x="926" y="838" width="3" height="1"/><rect x="932" y="838" width="3" height="1"/><rect x="938" y="838" width="3" height="1"/><rect x="944" y="838" width="3" height="1"/><rect x="950" y="838" width="3" height="1"/><rect x="956" y="838" width="3" height="1"/><rect x="962" y="838" width="3" height="1"/><rect x="968" y="838" width="3" height="1"/><rect x="974" y="838" width="3" height="1"/><rect x="980" y="838" width="3" height="1"/><rect x="986" y="838" width="3" height="1"/><rect x="992" y="838" width="3" height="1"/><rect x="998" y="838" width="3" height="1"/><rect x="1004" y="838" width="3" height="1"/><rect x="1010" y="838" width="3" height="1"/><rect x="1016" y="838" width="3" height="1"/><rect x="1022" y="838" width="3" height="1"/><rect x="1028" y="838" width="3" height="1"/><rect x="1034" y="838" width="3" height="1"/><rect x="1040" y="838" width="3" height="1"/><rect x="1046" y="838" width="3" height="1"/><rect x="1052" y="838" width="3" height="1"/><rect x="1058" y="838" width="3" height="1"/><rect x="1064" y="838" width="3" height="1"/><rect x="1070" y="838" width="3" height="1"/><rect x="1076" y="838" width="3" height="1"/><rect x="1082" y="838" width="3" height="1"/><rect x="1088" y="838" width="3" height="1"/><rect x="1094" y="838" width="3" height="1"/><rect x="1100" y="838" width="3" height="1"/><rect x="1106" y="838" width="3" height="1"/><rect x="1112" y="838" width="3" height="1"/><rect x="1118" y="838" width="3" height="1"/><rect x="1124" y="838" width="3" height="1"/><rect x="1130" y="838" width="3" height="1"/><rect x="1136" y="838" width="3" height="1"/><rect x="1142" y="838" width="3" height="1"/><rect x="1148" y="838" width="3" height="1"/><rect x="1154" y="838" width="3" height="1"/><rect x="1160" y="838" width="3" height="1"/><rect x="1166" y="838" width="3" height="1"/><rect x="1172" y="838" width="3" height="1"/><rect x="1178" y="838" width="3" height="1"/><rect x="1184" y="838" width="3" height="1"/><rect x="1190" y="838" width="3" height="1"/><rect x="1196" y="838" width="3" height="1"/><rect x="1202" y="838" width="3" height="1"/><rect x="1208" y="838" width="3" height="1"/><rect x="1214" y="838" width="3" height="1"/><rect x="1220" y="838" width="3" height="1"/><rect x="1226" y="838" width="3" height="1"/><rect x="1232" y="838" width="3" height="1"/><rect x="1238" y="838" width="3" height="1"/><rect x="1244" y="838" width="3" height="1"/><rect x="1250" y="838" width="3" height="1"/><rect x="1256" y="838" width="3" height="1"/><rect x="1262" y="838" width="3" height="1"/><rect x="1268" y="838" width="3" height="1"/><rect x="1274" y="838" width="3" height="1"/><rect x="1280" y="838" width="3" height="1"/><rect x="1286" y="838" width="3" height="1"/><rect x="1292" y="838" width="3" height="1"/><rect x="1298" y="838" width="3" height="1"/><rect x="1304" y="838" width="3" height="1"/><rect x="1310" y="838" width="3" height="1"/><rect x="1316" y="838" width="3" height="1"/><rect x="1322" y="838" width="3" height="1"/><rect x="1328" y="838" width="3" height="1"/><rect x="1334" y="838" width="3" height="1"/><rect x="1340" y="838" width="3" height="1"/><rect x="1346" y="838" width="3" height="1"/><rect x="1352" y="838" width="3" height="1"/><rect x="1358" y="838" width="3" height="1"/><rect x="1364" y="838" width="3" height="1"/><rect x="1370" y="838" width="3" height="1"/><rect x="1376" y="838" width="3" height="1"/><rect x="1382" y="838" width="3" height="1"/><rect x="1388" y="838" width="3" height="1"/><rect x="1394" y="838" width="3" height="1"/><rect x="1400" y="838" width="3" height="1"/><rect x="1406" y="838" width="3" height="1"/><rect x="1412" y="838" width="3" height="1"/><rect x="1418" y="838" width="3" height="1"/><rect x="1424" y="838" width="3" height="1"/><rect x="1430" y="838" width="3" height="1"/><rect x="1436" y="838" width="3" height="1"/><rect x="1442" y="838" width="3" height="1"/><rect x="1448" y="838" width="3" height="1"/><rect x="1454" y="838" width="3" height="1"/><rect x="1460" y="838" width="3" height="1"/><rect x="1466" y="838" width="3" height="1"/><rect x="1472" y="838" width="3" height="1"/><rect x="1478" y="838" width="3" height="1"/><rect x="1484" y="838" width="3" height="1"/><rect x="1490" y="838" width="3" height="1"/><rect x="1496" y="838" width="3" height="1"/><rect x="1502" y="838" width="3" height="1"/><rect x="1508" y="838" width="3" height="1"/><rect x="1514" y="838" width="3" height="1"/><rect x="1520" y="838" width="3" height="1"/><rect x="1526" y="838" width="3" height="1"/><rect x="1532" y="838" width="3" height="1"/><rect x="1538" y="838" width="3" height="1"/><rect x="1544" y="838" width="3" height="1"/><rect x="1550" y="838" width="3" height="1"/><rect x="1556" y="838" width="3" height="1"/><rect x="1562" y="838" width="3" height="1"/><rect x="1568" y="838" width="3" height="1"/><rect x="1574" y="838" width="3" height="1"/><rect x="1580" y="838" width="3" height="1"/><rect x="1586" y="838" width="3" height="1"/><rect x="1592" y="838" width="3" height="1"/><rect x="1598" y="838" width="3" height="1"/><rect x="1604" y="838" width="3" height="1"/><rect x="1610" y="838" width="3" height="1"/><rect x="1616" y="838" width="3" height="1"/><rect x="1622" y="838" width="3" height="1"/><rect x="1628" y="838" width="3" height="1"/><rect x="1634" y="838" width="3" height="1"/><rect x="1640" y="838" width="3" height="1"/><rect x="1646" y="838" width="3" height="1"/><rect x="1652" y="838" width="3" height="1"/><rect x="1658" y="838" width="3" height="1"/><rect x="1664" y="838" width="3" height="1"/><rect x="1670" y="838" width="3" height="1"/><rect x="1676" y="838" width="3" height="1"/><rect x="1682" y="838" width="3" height="1"/><rect x="2" y="899" width="3" height="1"/><rect x="8" y="899" width="3" height="1"/><rect x="14" y="899" width="3" height="1"/><rect x="20" y="899" width="3" height="1"/><rect x="26" y="899" width="3" height="1"/><rect x="32" y="899" width="3" height="1"/><rect x="38" y="899" width="3" height="1"/><rect x="44" y="899" width="3" height="1"/><rect x="50" y="899" width="3" height="1"/><rect x="56" y="899" width="3" height="1"/><rect x="62" y="899" width="3" height="1"/><rect x="68" y="899" width="3" height="1"/><rect x="74" y="899" width="3" height="1"/><rect x="80" y="899" width="3" height="1"/><rect x="86" y="899" width="3" height="1"/><rect x="92" y="899" width="3" height="1"/><rect x="98" y="899" width="3" height="1"/><rect x="104" y="899" width="3" height="1"/><rect x="110" y="899" width="3" height="1"/><rect x="116" y="899" width="3" height="1"/><rect x="122" y="899" width="3" height="1"/><rect x="128" y="899" width="3" height="1"/><rect x="134" y="899" width="3" height="1"/><rect x="140" y="899" width="3" height="1"/><rect x="146" y="899" width="3" height="1"/><rect x="152" y="899" width="3" height="1"/><rect x="158" y="899" width="3" height="1"/><rect x="164" y="899" width="3" height="1"/><rect x="170" y="899" width="3" height="1"/><rect x="176" y="899" width="3" height="1"/><rect x="182" y="899" width="3" height="1"/><rect x="188" y="899" width="3" height="1"/><rect x="194" y="899" width="3" height="1"/><rect x="200" y="899" width="3" height="1"/><rect x="206" y="899" width="3" height="1"/><rect x="212" y="899" width="3" height="1"/><rect x="218" y="899" width="3" height="1"/><rect x="224" y="899" width="3" height="1"/><rect x="230" y="899" width="3" height="1"/><rect x="236" y="899" width="3" height="1"/><rect x="242" y="899" width="3" height="1"/><rect x="248" y="899" width="3" height="1"/><rect x="254" y="899" width="3" height="1"/><rect x="260" y="899" width="3" height="1"/><rect x="266" y="899" width="3" height="1"/><rect x="272" y="899" width="3" height="1"/><rect x="278" y="899" width="3" height="1"/><rect x="284" y="899" width="3" height="1"/><rect x="290" y="899" width="3" height="1"/><rect x="296" y="899" width="3" height="1"/><rect x="302" y="899" width="3" height="1"/><rect x="308" y="899" width="3" height="1"/><rect x="314" y="899" width="3" height="1"/><rect x="320" y="899" width="3" height="1"/><rect x="326" y="899" width="3" height="1"/><rect x="332" y="899" width="3" height="1"/><rect x="338" y="899" width="3" height="1"/><rect x="344" y="899" width="3" height="1"/><rect x="350" y="899" width="3" height="1"/><rect x="356" y="899" width="3" height="1"/><rect x="362" y="899" width="3" height="1"/><rect x="368" y="899" width="3" height="1"/><rect x="374" y="899" width="3" height="1"/><rect x="380" y="899" width="3" height="1"/><rect x="386" y="899" width="3" height="1"/><rect x="392" y="899" width="3" height="1"/><rect x="398" y="899" width="3" height="1"/><rect x="404" y="899" width="3" height="1"/><rect x="410" y="899" width="3" height="1"/><rect x="416" y="899" width="3" height="1"/><rect x="422" y="899" width="3" height="1"/><rect x="428" y="899" width="3" height="1"/><rect x="434" y="899" width="3" height="1"/><rect x="440" y="899" width="3" height="1"/><rect x="446" y="899" width="3" height="1"/><rect x="452" y="899" width="3" height="1"/><rect x="458" y="899" width="3" height="1"/><rect x="464" y="899" width="3" height="1"/><rect x="470" y="899" width="3" height="1"/><rect x="476" y="899" width="3" height="1"/><rect x="482" y="899" width="3" height="1"/><rect x="488" y="899" width="3" height="1"/><rect x="494" y="899" width="3" height="1"/><rect x="500" y="899" width="3" height="1"/><rect x="506" y="899" width="3" height="1"/><rect x="512" y="899" width="3" height="1"/><rect x="518" y="899" width="3" height="1"/><rect x="524" y="899" width="3" height="1"/><rect x="530" y="899" width="3" height="1"/><rect x="536" y="899" width="3" height="1"/><rect x="542" y="899" width="3" height="1"/><rect x="548" y="899" width="3" height="1"/><rect x="554" y="899" width="3" height="1"/><rect x="560" y="899" width="3" height="1"/><rect x="566" y="899" width="3" height="1"/><rect x="572" y="899" width="3" height="1"/><rect x="578" y="899" width="3" height="1"/><rect x="584" y="899" width="3" height="1"/><rect x="590" y="899" width="3" height="1"/><rect x="596" y="899" width="3" height="1"/><rect x="602" y="899" width="3" height="1"/><rect x="608" y="899" width="3" height="1"/><rect x="614" y="899" width="3" height="1"/><rect x="620" y="899" width="3" height="1"/><rect x="626" y="899" width="3" height="1"/><rect x="632" y="899" width="3" height="1"/><rect x="638" y="899" width="3" height="1"/><rect x="644" y="899" width="3" height="1"/><rect x="650" y="899" width="3" height="1"/><rect x="656" y="899" width="3" height="1"/><rect x="662" y="899" width="3" height="1"/><rect x="668" y="899" width="3" height="1"/><rect x="674" y="899" width="3" height="1"/><rect x="680" y="899" width="3" height="1"/><rect x="686" y="899" width="3" height="1"/><rect x="692" y="899" width="3" height="1"/><rect x="698" y="899" width="3" height="1"/><rect x="704" y="899" width="3" height="1"/><rect x="710" y="899" width="3" height="1"/><rect x="716" y="899" width="3" height="1"/><rect x="722" y="899" width="3" height="1"/><rect x="728" y="899" width="3" height="1"/><rect x="734" y="899" width="3" height="1"/><rect x="740" y="899" width="3" height="1"/><rect x="746" y="899" width="3" height="1"/><rect x="752" y="899" width="3" height="1"/><rect x="758" y="899" width="3" height="1"/><rect x="764" y="899" width="3" height="1"/><rect x="770" y="899" width="3" height="1"/><rect x="776" y="899" width="3" height="1"/><rect x="782" y="899" width="3" height="1"/><rect x="788" y="899" width="3" height="1"/><rect x="794" y="899" width="3" height="1"/><rect x="800" y="899" width="3" height="1"/><rect x="806" y="899" width="3" height="1"/><rect x="812" y="899" width="3" height="1"/><rect x="818" y="899" width="3" height="1"/><rect x="824" y="899" width="3" height="1"/><rect x="830" y="899" width="3" height="1"/><rect x="836" y="899" width="3" height="1"/><rect x="842" y="899" width="3" height="1"/><rect x="848" y="899" width="3" height="1"/><rect x="854" y="899" width="3" height="1"/><rect x="860" y="899" width="3" height="1"/><rect x="866" y="899" width="3" height="1"/><rect x="872" y="899" width="3" height="1"/><rect x="878" y="899" width="3" height="1"/><rect x="884" y="899" width="3" height="1"/><rect x="890" y="899" width="3" height="1"/><rect x="896" y="899" width="3" height="1"/><rect x="902" y="899" width="3" height="1"/><rect x="908" y="899" width="3" height="1"/><rect x="914" y="899" width="3" height="1"/><rect x="920" y="899" width="3" height="1"/><rect x="926" y="899" width="3" height="1"/><rect x="932" y="899" width="3" height="1"/><rect x="938" y="899" width="3" height="1"/><rect x="944" y="899" width="3" height="1"/><rect x="950" y="899" width="3" height="1"/><rect x="956" y="899" width="3" height="1"/><rect x="962" y="899" width="3" height="1"/><rect x="968" y="899" width="3" height="1"/><rect x="974" y="899" width="3" height="1"/><rect x="980" y="899" width="3" height="1"/><rect x="986" y="899" width="3" height="1"/><rect x="992" y="899" width="3" height="1"/><rect x="998" y="899" width="3" height="1"/><rect x="1004" y="899" width="3" height="1"/><rect x="1010" y="899" width="3" height="1"/><rect x="1016" y="899" width="3" height="1"/><rect x="1022" y="899" width="3" height="1"/><rect x="1028" y="899" width="3" height="1"/><rect x="1034" y="899" width="3" height="1"/><rect x="1040" y="899" width="3" height="1"/><rect x="1046" y="899" width="3" height="1"/><rect x="1052" y="899" width="3" height="1"/><rect x="1058" y="899" width="3" height="1"/><rect x="1064" y="899" width="3" height="1"/><rect x="1070" y="899" width="3" height="1"/><rect x="1076" y="899" width="3" height="1"/><rect x="1082" y="899" width="3" height="1"/><rect x="1088" y="899" width="3" height="1"/><rect x="1094" y="899" width="3" height="1"/><rect x="1100" y="899" width="3" height="1"/><rect x="1106" y="899" width="3" height="1"/><rect x="1112" y="899" width="3" height="1"/><rect x="1118" y="899" width="3" height="1"/><rect x="1124" y="899" width="3" height="1"/><rect x="1130" y="899" width="3" height="1"/><rect x="1136" y="899" width="3" height="1"/><rect x="1142" y="899" width="3" height="1"/><rect x="1148" y="899" width="3" height="1"/><rect x="1154" y="899" width="3" height="1"/><rect x="1160" y="899" width="3" height="1"/><rect x="1166" y="899" width="3" height="1"/><rect x="1172" y="899" width="3" height="1"/><rect x="1178" y="899" width="3" height="1"/><rect x="1184" y="899" width="3" height="1"/><rect x="1190" y="899" width="3" height="1"/><rect x="1196" y="899" width="3" height="1"/><rect x="1202" y="899" width="3" height="1"/><rect x="1208" y="899" width="3" height="1"/><rect x="1214" y="899" width="3" height="1"/><rect x="1220" y="899" width="3" height="1"/><rect x="1226" y="899" width="3" height="1"/><rect x="1232" y="899" width="3" height="1"/><rect x="1238" y="899" width="3" height="1"/><rect x="1244" y="899" width="3" height="1"/><rect x="1250" y="899" width="3" height="1"/><rect x="1256" y="899" width="3" height="1"/><rect x="1262" y="899" width="3" height="1"/><rect x="1268" y="899" width="3" height="1"/><rect x="1274" y="899" width="3" height="1"/><rect x="1280" y="899" width="3" height="1"/><rect x="1286" y="899" width="3" height="1"/><rect x="1292" y="899" width="3" height="1"/><rect x="1298" y="899" width="3" height="1"/><rect x="1304" y="899" width="3" height="1"/><rect x="1310" y="899" width="3" height="1"/><rect x="1316" y="899" width="3" height="1"/><rect x="1322" y="899" width="3" height="1"/><rect x="1328" y="899" width="3" height="1"/><rect x="1334" y="899" width="3" height="1"/><rect x="1340" y="899" width="3" height="1"/><rect x="1346" y="899" width="3" height="1"/><rect x="1352" y="899" width="3" height="1"/><rect x="1358" y="899" width="3" height="1"/><rect x="1364" y="899" width="3" height="1"/><rect x="1370" y="899" width="3" height="1"/><rect x="1376" y="899" width="3" height="1"/><rect x="1382" y="899" width="3" height="1"/><rect x="1388" y="899" width="3" height="1"/><rect x="1394" y="899" width="3" height="1"/><rect x="1400" y="899" width="3" height="1"/><rect x="1406" y="899" width="3" height="1"/><rect x="1412" y="899" width="3" height="1"/><rect x="1418" y="899" width="3" height="1"/><rect x="1424" y="899" width="3" height="1"/><rect x="1430" y="899" width="3" height="1"/><rect x="1436" y="899" width="3" height="1"/><rect x="1442" y="899" width="3" height="1"/><rect x="1448" y="899" width="3" height="1"/><rect x="1454" y="899" width="3" height="1"/><rect x="1460" y="899" width="3" height="1"/><rect x="1466" y="899" width="3" height="1"/><rect x="1472" y="899" width="3" height="1"/><rect x="1478" y="899" width="3" height="1"/><rect x="1484" y="899" width="3" height="1"/><rect x="1490" y="899" width="3" height="1"/><rect x="1496" y="899" width="3" height="1"/><rect x="1502" y="899" width="3" height="1"/><rect x="1508" y="899" width="3" height="1"/><rect x="1514" y="899" width="3" height="1"/><rect x="1520" y="899" width="3" height="1"/><rect x="1526" y="899" width="3" height="1"/><rect x="1532" y="899" width="3" height="1"/><rect x="1538" y="899" width="3" height="1"/><rect x="1544" y="899" width="3" height="1"/><rect x="1550" y="899" width="3" height="1"/><rect x="1556" y="899" width="3" height="1"/><rect x="1562" y="899" width="3" height="1"/><rect x="1568" y="899" width="3" height="1"/><rect x="1574" y="899" width="3" height="1"/><rect x="1580" y="899" width="3" height="1"/><rect x="1586" y="899" width="3" height="1"/><rect x="1592" y="899" width="3" height="1"/><rect x="1598" y="899" width="3" height="1"/><rect x="1604" y="899" width="3" height="1"/><rect x="1610" y="899" width="3" height="1"/><rect x="1616" y="899" width="3" height="1"/><rect x="1622" y="899" width="3" height="1"/><rect x="1628" y="899" width="3" height="1"/><rect x="1634" y="899" width="3" height="1"/><rect x="1640" y="899" width="3" height="1"/><rect x="1646" y="899" width="3" height="1"/><rect x="1652" y="899" width="3" height="1"/><rect x="1658" y="899" width="3" height="1"/><rect x="1664" y="899" width="3" height="1"/><rect x="1670" y="899" width="3" height="1"/><rect x="1676" y="899" width="3" height="1"/><rect x="1682" y="899" width="3" height="1"/></g>
<polyline points="0.0,801.7 3.5,800.7 11.5,798.1 19.5,792.6 27.5,790.3 35.5,807.1 43.5,818.4 51.5,827.8 59.5,841.4 67.5,841.9 75.5,841.7 83.5,829.4 91.5,835.3 99.5,843.1 107.5,851.2 115.5,856.8 123.5,857.6 131.5,842.8 139.5,845.1 147.5,848.3 155.5,845.8 163.5,852.0 171.5,851.6 179.5,850.4 187.5,837.5 195.5,837.2 203.5,835.5 211.5,834.2 219.5,833.5 227.5,834.0 235.5,825.9 243.5,822.1 251.5,824.0 259.5,826.3 267.5,826.6 275.5,832.0 283.5,830.5 291.5,833.4 299.5,831.6 307.5,837.3 315.5,833.6 323.5,818.7 331.5,815.2 339.5,811.0 347.5,818.5 355.5,826.6 363.5,826.6 371.5,825.3 379.5,822.6 387.5,816.0 395.5,805.0 403.5,794.4 411.5,793.9 419.5,794.3 427.5,804.4 435.5,801.3 443.5,800.0 451.5,809.5 459.5,812.5 467.5,807.5 475.5,803.4 483.5,799.5 491.5,795.7 499.5,803.5 507.5,802.0 515.5,818.0 523.5,811.8 531.5,820.3 539.5,812.9 547.5,832.4 555.5,831.6 563.5,832.6 571.5,816.5 579.5,815.8 587.5,808.1 595.5,810.2 603.5,807.4 611.5,801.4 619.5,799.4 627.5,802.3 635.5,822.2 643.5,817.8 651.5,822.9 659.5,836.9 667.5,862.1 675.5,853.7 683.5,868.4 691.5,869.7 699.5,867.1 707.5,867.7 715.5,868.0 723.5,862.9 731.5,865.4 739.5,870.6 747.5,869.9 755.5,877.0 763.5,879.1 771.5,879.1 779.5,868.3 787.5,868.8 795.5,862.7 803.5,847.4 811.5,844.8 819.5,841.1 827.5,843.5 835.5,839.2 843.5,837.4 851.5,824.9 859.5,842.3 867.5,833.3 875.5,829.4 883.5,823.8 891.5,825.1 899.5,825.3 907.5,842.5 915.5,837.6 923.5,847.8 931.5,843.3 939.5,843.3 947.5,839.7 955.5,838.1 963.5,827.4 971.5,831.3 979.5,841.4 987.5,839.3 995.5,842.3 1003.5,845.5 1011.5,855.1 1019.5,858.8 1027.5,850.9 1035.5,856.7 1043.5,854.0 1051.5,827.9 1059.5,848.1 1067.5,840.3 1075.5,843.0 1083.5,840.2 1091.5,818.6 1099.5,811.0 1107.5,813.2 1115.5,829.5 1123.5,829.9 1131.5,825.7 1139.5,827.4 1147.5,828.7 1155.5,833.7 1163.5,835.5 1171.5,831.9 1179.5,829.4 1187.5,817.7 1195.5,814.8 1203.5,814.1 1211.5,821.8 1219.5,833.0 1227.5,829.1 1235.5,825.7 1243.5,817.0 1251.5,822.2 1259.5,821.9 1267.5,819.2 1275.5,821.2 1283.5,835.1 1291.5,831.7 1299.5,828.9 1307.5,840.5 1315.5,852.5 1323.5,840.8 1331.5,839.2 1339.5,830.2 1347.5,826.5 1355.5,823.7 1363.5,829.8 1371.5,841.3 1379.5,837.8 1387.5,840.6 1395.5,827.1 1403.5,822.1 1411.5,821.0 1419.5,832.4 1427.5,831.4 1435.5,822.3" fill="none" stroke="#1e90ff" stroke-width="1" shape-rendering="crispEdges" />
</g>
<g fill="#000" shape-rendering="crispEdges"><rect x="1686" y="46" width="2" height="1"/><rect x="1686" y="79" width="2" height="1"/><rect x="1686" y="112" width="2" height="1"/><rect x="1686" y="145" width="2" height="1"/><rect x="1686" y="178" width="2" height="1"/><rect x="1686" y="211" width="2" height="1"/><rect x="1686" y="244" width="2" height="1"/><rect x="1686" y="277" width="2" height="1"/><rect x="1686" y="310" width="2" height="1"/><rect x="1686" y="343" width="2" height="1"/><rect x="1686" y="376" width="2" height="1"/><rect x="1686" y="409" width="2" height="1"/><rect x="1686" y="442" width="2" height="1"/><rect x="1686" y="475" width="2" height="1"/><rect x="1686" y="508" width="2" height="1"/><rect x="1686" y="541" width="2" height="1"/><rect x="1686" y="574" width="2" height="1"/><rect x="1686" y="673" width="2" height="1"/><rect x="1686" y="581" width="1" height="1"/><rect x="1686" y="787" width="2" height="1"/><rect x="1686" y="838" width="2" height="1"/><rect x="1686" y="899" width="2" height="1"/><rect x="59" y="926" width="1" height="4"/><rect x="123" y="926" width="1" height="4"/><rect x="187" y="926" width="1" height="4"/><rect x="251" y="926" width="1" height="4"/><rect x="315" y="926" width="1" height="4"/><rect x="379" y="926" width="1" height="4"/><rect x="443" y="926" width="1" height="4"/><rect x="507" y="926" width="1" height="4"/><rect x="571" y="926" width="1" height="4"/><rect x="635" y="926" width="1" height="4"/><rect x="699" y="926" width="1" height="4"/><rect x="763" y="926" width="1" height="4"/><rect x="827" y="926" width="1" height="4"/><rect x="891" y="926" width="1" height="4"/><rect x="955" y="926" width="1" height="4"/><rect x="1019" y="926" width="1" height="4"/><rect x="1083" y="926" width="1" height="4"/><rect x="1147" y="926" width="1" height="4"/><rect x="1211" y="926" width="1" height="4"/><rect x="1275" y="926" width="1" height="4"/><rect x="1339" y="926" width="1" height="4"/><rect x="1403" y="926" width="1" height="4"/></g><text transform="translate(1691,50.1) scale(0.928,1)" font-size="9.7" fill="#000" font-family="Liberation Sans, sans-serif" stroke="#000" stroke-width="0.18">142.810</text><text transform="translate(1691,83.1) scale(0.928,1)" font-size="9.7" fill="#000" font-family="Liberation Sans, sans-serif" stroke="#000" stroke-width="0.18">142.110</text><text transform="translate(1691,116.1) scale(0.928,1)" font-size="9.7" fill="#000" font-family="Liberation Sans, sans-serif" stroke="#000" stroke-width="0.18">141.390</text><text transform="translate(1691,149.1) scale(0.928,1)" font-size="9.7" fill="#000" font-family="Liberation Sans, sans-serif" stroke="#000" stroke-width="0.18">140.690</text><text transform="translate(1691,182.1) scale(0.928,1)" font-size="9.7" fill="#000" font-family="Liberation Sans, sans-serif" stroke="#000" stroke-width="0.18">139.990</text><text transform="translate(1691,215.1) scale(0.928,1)" font-size="9.7" fill="#000" font-family="Liberation Sans, sans-serif" stroke="#000" stroke-width="0.18">139.290</text><text transform="translate(1691,248.1) scale(0.928,1)" font-size="9.7" fill="#000" font-family="Liberation Sans, sans-serif" stroke="#000" stroke-width="0.18">138.570</text><text transform="translate(1691,281.1) scale(0.928,1)" font-size="9.7" fill="#000" font-family="Liberation Sans, sans-serif" stroke="#000" stroke-width="0.18">137.870</text><text transform="translate(1691,314.1) scale(0.928,1)" font-size="9.7" fill="#000" font-family="Liberation Sans, sans-serif" stroke="#000" stroke-width="0.18">137.170</text><text transform="translate(1691,347.1) scale(0.928,1)" font-size="9.7" fill="#000" font-family="Liberation Sans, sans-serif" stroke="#000" stroke-width="0.18">136.470</text><text transform="translate(1691,380.1) scale(0.928,1)" font-size="9.7" fill="#000" font-family="Liberation Sans, sans-serif" stroke="#000" stroke-width="0.18">135.750</text><text transform="translate(1691,413.1) scale(0.928,1)" font-size="9.7" fill="#000" font-family="Liberation Sans, sans-serif" stroke="#000" stroke-width="0.18">135.050</text><text transform="translate(1691,446.1) scale(0.928,1)" font-size="9.7" fill="#000" font-family="Liberation Sans, sans-serif" stroke="#000" stroke-width="0.18">134.350</text><text transform="translate(1691,479.1) scale(0.928,1)" font-size="9.7" fill="#000" font-family="Liberation Sans, sans-serif" stroke="#000" stroke-width="0.18">133.630</text><text transform="translate(1691,512.1) scale(0.928,1)" font-size="9.7" fill="#000" font-family="Liberation Sans, sans-serif" stroke="#000" stroke-width="0.18">132.930</text><text transform="translate(1691,545.1) scale(0.928,1)" font-size="9.7" fill="#000" font-family="Liberation Sans, sans-serif" stroke="#000" stroke-width="0.18">132.230</text><text transform="translate(1691,578.1) scale(0.928,1)" font-size="9.7" fill="#000" font-family="Liberation Sans, sans-serif" stroke="#000" stroke-width="0.18">131.530</text><text transform="translate(1690,589.6) scale(0.928,1)" font-size="9.7" fill="#000" font-family="Liberation Sans, sans-serif" stroke="#000" stroke-width="0.18">1.787</text><text transform="translate(1690,677.1) scale(0.928,1)" font-size="9.7" fill="#000" font-family="Liberation Sans, sans-serif" stroke="#000" stroke-width="0.18">0.00</text><text transform="translate(1690,745.6) scale(0.928,1)" font-size="9.7" fill="#000" font-family="Liberation Sans, sans-serif" stroke="#000" stroke-width="0.18">-1.471</text><text transform="translate(1690,762.6) scale(0.928,1)" font-size="9.7" fill="#000" font-family="Liberation Sans, sans-serif" stroke="#000" stroke-width="0.18">100</text><text transform="translate(1690,791.1) scale(0.928,1)" font-size="9.7" fill="#000" font-family="Liberation Sans, sans-serif" stroke="#000" stroke-width="0.18">80</text><text transform="translate(1690,842.1) scale(0.928,1)" font-size="9.7" fill="#000" font-family="Liberation Sans, sans-serif" stroke="#000" stroke-width="0.18">50</text><text transform="translate(1690,903.1) scale(0.928,1)" font-size="9.7" fill="#000" font-family="Liberation Sans, sans-serif" stroke="#000" stroke-width="0.18">15</text><text transform="translate(1690,921.6) scale(0.928,1)" font-size="9.7" fill="#000" font-family="Liberation Sans, sans-serif" stroke="#000" stroke-width="0.18">0</text><rect x="1687" y="111" width="41" height="11" fill="#ff0000"/><text transform="translate(1690,120.1) scale(0.928,1)" font-size="9.7" fill="#fff" font-family="Liberation Sans, sans-serif" stroke="#fff" stroke-width="0.18">141.287</text><rect x="1687" y="129" width="41" height="11" fill="#ff0000"/><text transform="translate(1690,138.1) scale(0.928,1)" font-size="9.7" fill="#fff" font-family="Liberation Sans, sans-serif" stroke="#fff" stroke-width="0.18">140.903</text><rect x="1687" y="145" width="41" height="11" fill="#000000"/><text transform="translate(1690,154.1) scale(0.928,1)" font-size="9.7" fill="#fff" font-family="Liberation Sans, sans-serif" stroke="#fff" stroke-width="0.18">140.592</text><rect x="1687" y="159" width="41" height="11" fill="#32cd32"/><text transform="translate(1690,168.1) scale(0.928,1)" font-size="9.7" fill="#fff" font-family="Liberation Sans, sans-serif" stroke="#fff" stroke-width="0.18">140.262</text><rect x="1687" y="171" width="41" height="11" fill="#0000ff"/><text transform="translate(1690,180.1) scale(0.928,1)" font-size="9.7" fill="#fff" font-family="Liberation Sans, sans-serif" stroke="#fff" stroke-width="0.18">140.006</text><rect x="1687" y="188" width="41" height="11" fill="#0000ff"/><text transform="translate(1690,197.1) scale(0.928,1)" font-size="9.7" fill="#fff" font-family="Liberation Sans, sans-serif" stroke="#fff" stroke-width="0.18">139.643</text><text transform="translate(2,938.6) scale(0.928,1)" font-size="9.7" fill="#000" font-family="Liberation Sans, sans-serif" stroke="#000" stroke-width="0.18">Jun 2020</text><text transform="translate(58.3,938.6) scale(0.928,1)" font-size="9.7" fill="#000" font-family="Liberation Sans, sans-serif" stroke="#000" stroke-width="0.18">11 Jun 2020</text><text transform="translate(122.3,938.6) scale(0.928,1)" font-size="9.7" fill="#000" font-family="Liberation Sans, sans-serif" stroke="#000" stroke-width="0.18">21 Jun 2020</text><text transform="translate(186.3,938.6) scale(0.928,1)" font-size="9.7" fill="#000" font-family="Liberation Sans, sans-serif" stroke="#000" stroke-width="0.18">30 Jun 2020</text><text transform="translate(250.3,938.6) scale(0.928,1)" font-size="9.7" fill="#000" font-family="Liberation Sans, sans-serif" stroke="#000" stroke-width="0.18">9 Jul 2020</text><text transform="translate(314.3,938.6) scale(0.928,1)" font-size="9.7" fill="#000" font-family="Liberation Sans, sans-serif" stroke="#000" stroke-width="0.18">19 Jul 2020</text><text transform="translate(378.3,938.6) scale(0.928,1)" font-size="9.7" fill="#000" font-family="Liberation Sans, sans-serif" stroke="#000" stroke-width="0.18">28 Jul 2020</text><text transform="translate(442.3,938.6) scale(0.928,1)" font-size="9.7" fill="#000" font-family="Liberation Sans, sans-serif" stroke="#000" stroke-width="0.18">6 Aug 2020</text><text transform="translate(506.3,938.6) scale(0.928,1)" font-size="9.7" fill="#000" font-family="Liberation Sans, sans-serif" stroke="#000" stroke-width="0.18">16 Aug 2020</text><text transform="translate(570.3,938.6) scale(0.928,1)" font-size="9.7" fill="#000" font-family="Liberation Sans, sans-serif" stroke="#000" stroke-width="0.18">25 Aug 2020</text><text transform="translate(634.3,938.6) scale(0.928,1)" font-size="9.7" fill="#000" font-family="Liberation Sans, sans-serif" stroke="#000" stroke-width="0.18">3 Sep 2020</text><text transform="translate(698.3,938.6) scale(0.928,1)" font-size="9.7" fill="#000" font-family="Liberation Sans, sans-serif" stroke="#000" stroke-width="0.18">13 Sep 2020</text><text transform="translate(762.3,938.6) scale(0.928,1)" font-size="9.7" fill="#000" font-family="Liberation Sans, sans-serif" stroke="#000" stroke-width="0.18">22 Sep 2020</text><text transform="translate(826.3,938.6) scale(0.928,1)" font-size="9.7" fill="#000" font-family="Liberation Sans, sans-serif" stroke="#000" stroke-width="0.18">1 Oct 2020</text><text transform="translate(890.3,938.6) scale(0.928,1)" font-size="9.7" fill="#000" font-family="Liberation Sans, sans-serif" stroke="#000" stroke-width="0.18">11 Oct 2020</text><text transform="translate(954.3,938.6) scale(0.928,1)" font-size="9.7" fill="#000" font-family="Liberation Sans, sans-serif" stroke="#000" stroke-width="0.18">20 Oct 2020</text><text transform="translate(1018.3,938.6) scale(0.928,1)" font-size="9.7" fill="#000" font-family="Liberation Sans, sans-serif" stroke="#000" stroke-width="0.18">29 Oct 2020</text><text transform="translate(1082.3,938.6) scale(0.928,1)" font-size="9.7" fill="#000" font-family="Liberation Sans, sans-serif" stroke="#000" stroke-width="0.18">8 Nov 2020</text><text transform="translate(1146.3,938.6) scale(0.928,1)" font-size="9.7" fill="#000" font-family="Liberation Sans, sans-serif" stroke="#000" stroke-width="0.18">17 Nov 2020</text><text transform="translate(1210.3,938.6) scale(0.928,1)" font-size="9.7" fill="#000" font-family="Liberation Sans, sans-serif" stroke="#000" stroke-width="0.18">26 Nov 2020</text><text transform="translate(1274.3,938.6) scale(0.928,1)" font-size="9.7" fill="#000" font-family="Liberation Sans, sans-serif" stroke="#000" stroke-width="0.18">6 Dec 2020</text><text transform="translate(1338.3,938.6) scale(0.928,1)" font-size="9.7" fill="#000" font-family="Liberation Sans, sans-serif" stroke="#000" stroke-width="0.18">15 Dec 2020</text><text transform="translate(1402.3,938.6) scale(0.928,1)" font-size="9.7" fill="#000" font-family="Liberation Sans, sans-serif" stroke="#000" stroke-width="0.18">24 Dec 2020</text><text x="10.4" y="36" font-size="9.7" fill="#000" text-anchor="start" font-weight="normal" font-family="Liberation Sans, sans-serif" stroke="#000" stroke-width="0.18" textLength="62" lengthAdjust="spacingAndGlyphs">GBPJPY-,Daily</text><text x="79.5" y="36" font-size="9.7" fill="#000" text-anchor="start" font-weight="normal" font-family="Liberation Sans, sans-serif" stroke="#000" stroke-width="0.18" textLength="140.5" lengthAdjust="spacingAndGlyphs">139.740 140.645 139.688 140.592</text><path d="M0,35 L3,30.5 L6,35 Z" fill="#000"/><text x="0" y="592" font-size="9.7" fill="#000" text-anchor="start" font-weight="normal" font-family="Liberation Sans, sans-serif" stroke="#000" stroke-width="0.18" textLength="127" lengthAdjust="spacingAndGlyphs">MACD(12,26,9) 0.3995 0.2911</text><text x="0" y="764" font-size="9.7" fill="#000" text-anchor="start" font-weight="normal" font-family="Liberation Sans, sans-serif" stroke="#000" stroke-width="0.18" textLength="66.5" lengthAdjust="spacingAndGlyphs">RSI(14) 59.6071</text>
<rect x="0" y="44" width="50" height="24" fill="url(#gBtn)"/><rect x="0" y="44" width="50" height="1" fill="#1a1a90"/><rect x="2" y="67" width="44" height="1" fill="#101070"/><text x="10.7" y="60" font-size="11.8" fill="#fff" text-anchor="start" font-weight="normal" font-family="Liberation Sans, sans-serif"  textLength="25.2" lengthAdjust="spacingAndGlyphs">SELL</text><rect x="165" y="44" width="52" height="24" fill="url(#gBtn)"/><rect x="165" y="44" width="52" height="1" fill="#1a1a90"/><rect x="169" y="67" width="44" height="1" fill="#101070"/><text x="178" y="60" font-size="11.8" fill="#fff" text-anchor="start" font-weight="normal" font-family="Liberation Sans, sans-serif"  textLength="24" lengthAdjust="spacingAndGlyphs">BUY</text><rect x="50" y="44" width="115" height="24" fill="#fff"/><rect x="52.5" y="44.5" width="112" height="21" fill="#fff" stroke="#a8a8a8" stroke-width="1"/><rect x="53.5" y="45.5" width="19" height="19" fill="url(#gGray)" stroke="#c8c8c8" stroke-width="1"/><rect x="142.5" y="45.5" width="19" height="19" fill="url(#gGray)" stroke="#c8c8c8" stroke-width="1"/><path d="M60.5,53.5 L64.5,53.5 L62.5,56 Z" fill="#6070b0"/><path d="M149.5,56 L153.5,56 L151.5,53.5 Z" fill="#6070b0"/><text x="139" y="60" font-size="12" fill="#000" text-anchor="end" font-weight="normal" font-family="Liberation Sans, sans-serif" >1.00</text><rect x="0" y="68" width="107" height="40" fill="url(#gPx)"/><rect x="109" y="68" width="108" height="40" fill="url(#gPx)"/><rect x="107" y="68" width="2" height="40" fill="#fff"/><rect x="0" y="68" width="217" height="1" fill="#000080"/><text x="21.5" y="99" font-size="12" fill="#fff" text-anchor="start" font-weight="bold" font-family="Liberation Sans, sans-serif" >140</text><text x="47.2" y="99.3" font-size="34.5" fill="#fff" text-anchor="start" font-weight="normal" font-family="Liberation Sans, sans-serif"  textLength="33" lengthAdjust="spacingAndGlyphs">59</text><text x="85" y="83" font-size="11" fill="#fff" text-anchor="start" font-weight="bold" font-family="Liberation Sans, sans-serif" >2</text><text x="131" y="99" font-size="12" fill="#fff" text-anchor="start" font-weight="bold" font-family="Liberation Sans, sans-serif" >140</text><text x="157" y="99.3" font-size="34.5" fill="#fff" text-anchor="start" font-weight="normal" font-family="Liberation Sans, sans-serif"  textLength="33" lengthAdjust="spacingAndGlyphs">63</text><text x="195.5" y="83" font-size="11" fill="#fff" text-anchor="start" font-weight="bold" font-family="Liberation Sans, sans-serif" >9</text>
</svg>
</body></html>
